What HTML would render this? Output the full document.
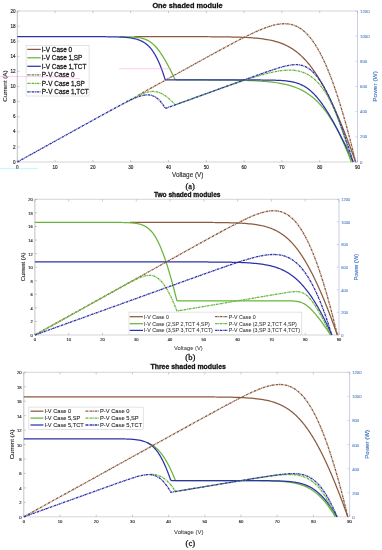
<!DOCTYPE html>
<html><head><meta charset="utf-8"><style>
html,body{margin:0;padding:0;background:#fff;}
body{width:382px;height:550px;overflow:hidden;}
svg{display:block;font-family:"Liberation Sans",sans-serif;filter:blur(0.3px);}
svg{stroke-width:0.28px;}
</style></head><body>
<svg width="382" height="550" viewBox="0 0 382 550">
<rect width="382" height="550" fill="#fff"/>
<path d="M17.3,162.0 L357.5,162.0 M17.3,11.0 L357.5,11.0" stroke="#b2b2b2" stroke-width="0.55" fill="none"/>
<path d="M17.3,11.0 L17.3,162.0" stroke="#8e8e8e" stroke-width="0.55" fill="none"/>
<path d="M357.5,11.0 L357.5,162.0" stroke="#a3aedb" stroke-width="0.6" fill="none"/>
<path d="M17.30,162.0 L17.30,159.8 M17.30,11.0 L17.30,13.2 M55.10,162.0 L55.10,159.8 M55.10,11.0 L55.10,13.2 M92.90,162.0 L92.90,159.8 M92.90,11.0 L92.90,13.2 M130.70,162.0 L130.70,159.8 M130.70,11.0 L130.70,13.2 M168.50,162.0 L168.50,159.8 M168.50,11.0 L168.50,13.2 M206.30,162.0 L206.30,159.8 M206.30,11.0 L206.30,13.2 M244.10,162.0 L244.10,159.8 M244.10,11.0 L244.10,13.2 M281.90,162.0 L281.90,159.8 M281.90,11.0 L281.90,13.2 M319.70,162.0 L319.70,159.8 M319.70,11.0 L319.70,13.2 M357.50,162.0 L357.50,159.8 M357.50,11.0 L357.50,13.2 M17.3,162.00 L19.5,162.00 M17.3,146.90 L19.5,146.90 M17.3,131.80 L19.5,131.80 M17.3,116.70 L19.5,116.70 M17.3,101.60 L19.5,101.60 M17.3,86.50 L19.5,86.50 M17.3,71.40 L19.5,71.40 M17.3,56.30 L19.5,56.30 M17.3,41.20 L19.5,41.20 M17.3,26.10 L19.5,26.10 M17.3,11.00 L19.5,11.00" stroke="#9a9a9a" stroke-width="0.5" fill="none"/>
<path d="M357.5,162.00 L355.3,162.00 M357.5,136.83 L355.3,136.83 M357.5,111.67 L355.3,111.67 M357.5,86.50 L355.3,86.50 M357.5,61.33 L355.3,61.33 M357.5,36.17 L355.3,36.17 M357.5,11.00 L355.3,11.00" stroke="#a9b3dc" stroke-width="0.5" fill="none"/>
<g font-size="4.6" fill="#262626" stroke="#262626" text-anchor="middle" style="stroke-width:0.14px">
<text x="17.30" y="168.90">0</text>
<text x="55.10" y="168.90">10</text>
<text x="92.90" y="168.90">20</text>
<text x="130.70" y="168.90">30</text>
<text x="168.50" y="168.90">40</text>
<text x="206.30" y="168.90">50</text>
<text x="244.10" y="168.90">60</text>
<text x="281.90" y="168.90">70</text>
<text x="319.70" y="168.90">80</text>
<text x="357.50" y="168.90">90</text>
</g>
<g font-size="4.6" fill="#262626" stroke="#262626" text-anchor="end" style="stroke-width:0.14px">
<text x="15.60" y="163.66">0</text>
<text x="15.60" y="148.56">2</text>
<text x="15.60" y="133.46">4</text>
<text x="15.60" y="118.36">6</text>
<text x="15.60" y="103.26">8</text>
<text x="15.60" y="88.16">10</text>
<text x="15.60" y="73.06">12</text>
<text x="15.60" y="57.96">14</text>
<text x="15.60" y="42.86">16</text>
<text x="15.60" y="27.76">18</text>
<text x="15.60" y="12.66">20</text>
</g>
<g font-size="4.3" fill="#5a86c6" stroke="#5a86c6" text-anchor="start" style="stroke-width:0.1px">
<text x="360.10" y="163.55">0</text>
<text x="360.10" y="138.38">200</text>
<text x="360.10" y="113.21">400</text>
<text x="360.10" y="88.05">600</text>
<text x="360.10" y="62.88">800</text>
<text x="360.10" y="37.71">1000</text>
<text x="360.10" y="12.55">1200</text>
</g>
<path d="M133.88,36.67 L135.92,36.67 L137.96,36.67 L140.00,36.67 L142.04,36.67 L144.08,36.67 L146.13,36.67 L148.17,36.67 L150.21,36.67 L152.25,36.67 L154.29,36.67 L156.33,36.67 L158.38,36.67 L160.42,36.67 L162.46,36.67 L164.50,36.68 L166.54,36.68 L168.58,36.68 L170.63,36.68 L172.67,36.68 L174.71,36.68 L176.75,36.68 L178.79,36.68 L180.84,36.68 L182.88,36.69 L184.92,36.69 L186.96,36.69 L189.00,36.69 L191.05,36.70 L193.09,36.70 L195.13,36.71 L197.17,36.71 L199.22,36.72 L201.26,36.72 L203.30,36.73 L205.35,36.74 L207.39,36.74 L209.43,36.75 L211.48,36.77 L213.52,36.78 L215.57,36.79 L217.61,36.81 L219.66,36.83 L221.71,36.85 L223.75,36.88 L225.80,36.90 L227.85,36.94 L229.90,36.97 L231.95,37.01 L234.00,37.06 L236.06,37.11 L238.11,37.17 L240.17,37.24 L242.23,37.31 L244.29,37.40 L246.35,37.50 L248.42,37.61 L250.49,37.74 L252.57,37.88 L254.64,38.04 L256.73,38.23 L258.82,38.44 L260.91,38.68 L263.02,38.95 L265.13,39.26 L267.25,39.60 L269.38,40.00 L271.52,40.45 L273.68,40.96 L275.85,41.54 L278.04,42.19 L280.25,42.94 L280.91,43.17 L281.54,43.41 L282.16,43.65 L282.75,43.89 L283.33,44.13 L283.89,44.37 L284.62,44.68 L285.32,45.00 L286.00,45.32 L286.65,45.64 L287.28,45.95 L287.90,46.27 L288.50,46.59 L289.08,46.91 L289.64,47.23 L290.19,47.54 L290.73,47.86 L291.25,48.18 L291.77,48.50 L292.39,48.89 L293.00,49.29 L293.59,49.69 L294.16,50.09 L294.72,50.48 L295.27,50.88 L295.80,51.28 L296.33,51.67 L296.84,52.07 L297.34,52.47 L297.83,52.87 L298.31,53.26 L298.78,53.66 L299.25,54.06 L299.70,54.45 L300.24,54.93 L300.76,55.41 L301.27,55.88 L301.78,56.36 L302.27,56.84 L302.76,57.31 L303.23,57.79 L303.70,58.27 L304.16,58.74 L304.61,59.22 L305.06,59.70 L305.50,60.17 L305.93,60.65 L306.36,61.13 L306.78,61.60 L307.19,62.08 L307.60,62.56 L308.00,63.03 L308.40,63.51 L308.79,63.99 L309.18,64.46 L309.56,64.94 L309.94,65.41 L310.31,65.89 L310.68,66.37 L311.05,66.84 L311.47,67.40 L311.88,67.96 L312.29,68.51 L312.70,69.07 L313.10,69.62 L313.49,70.18 L313.89,70.74 L314.27,71.29 L314.66,71.85 L315.04,72.40 L315.41,72.96 L315.78,73.52 L316.15,74.07 L316.51,74.63 L316.88,75.18 L317.23,75.74 L317.59,76.30 L317.94,76.85 L318.29,77.41 L318.63,77.96 L318.97,78.52 L319.31,79.08 L319.65,79.63 L319.98,80.19 L320.31,80.74 L320.64,81.30 L320.97,81.86 L321.29,82.41 L321.61,82.97 L321.93,83.52 L322.25,84.08 L322.56,84.64 L322.87,85.19 L323.18,85.75 L323.49,86.30 L323.80,86.86 L324.10,87.42 L324.40,87.97 L324.70,88.53 L325.00,89.08 L325.30,89.64 L325.59,90.20 L325.89,90.75 L326.18,91.31 L326.47,91.86 L326.75,92.42 L327.04,92.98 L327.33,93.53 L327.61,94.09 L327.89,94.64 L328.17,95.20 L328.45,95.76 L328.73,96.31 L329.00,96.87 L329.28,97.42 L329.55,97.98 L329.82,98.54 L330.09,99.09 L330.36,99.65 L330.63,100.20 L330.90,100.76 L331.16,101.32 L331.43,101.87 L331.69,102.43 L331.95,102.98 L332.21,103.54 L332.47,104.10 L332.73,104.65 L332.99,105.21 L333.24,105.76 L333.50,106.32 L333.75,106.88 L334.01,107.43 L334.26,107.99 L334.51,108.54 L334.76,109.10 L335.01,109.66 L335.26,110.21 L335.51,110.77 L335.75,111.32 L336.00,111.88 L336.25,112.44 L336.49,112.99 L336.73,113.55 L336.98,114.10 L337.22,114.66 L337.46,115.22 L337.70,115.77 L337.94,116.33 L338.18,116.88 L338.41,117.44 L338.65,118.00 L338.89,118.55 L339.12,119.11 L339.36,119.66 L339.59,120.22 L339.82,120.78 L340.06,121.33 L340.29,121.89 L340.52,122.44 L340.75,123.00 L340.98,123.56 L341.21,124.11 L341.44,124.67 L341.66,125.22 L341.89,125.78 L342.12,126.34 L342.34,126.89 L342.60,127.53 L342.86,128.16 L343.11,128.80 L343.37,129.43 L343.62,130.07 L343.88,130.71 L344.13,131.34 L344.38,131.98 L344.63,132.61 L344.88,133.25 L345.13,133.88 L345.38,134.52 L345.63,135.15 L345.88,135.79 L346.13,136.42 L346.37,137.06 L346.62,137.69 L346.86,138.33 L347.11,138.97 L347.35,139.60 L347.60,140.24 L347.84,140.87 L348.08,141.51 L348.32,142.14 L348.56,142.78 L348.80,143.41 L349.04,144.05 L349.28,144.68 L349.52,145.32 L349.76,145.96 L350.00,146.59 L350.23,147.23 L350.47,147.86 L350.71,148.50 L350.94,149.13 L351.18,149.77 L351.41,150.40 L351.65,151.04 L351.88,151.67 L352.11,152.31 L352.35,152.95 L352.58,153.58 L352.81,154.22 L353.04,154.85 L353.27,155.49 L353.50,156.12 L353.73,156.76 L353.96,157.39 L354.19,158.03 L354.42,158.66 L354.65,159.30 L354.87,159.93 L355.10,160.57 L355.33,161.21 L355.55,161.84 L355.61,162.00" stroke="#8c5a3e" stroke-width="1.25" fill="none"/>
<path d="M119.46,36.71 L120.19,36.71 L120.91,36.72 L121.64,36.72 L122.37,36.73 L123.09,36.74 L123.82,36.75 L124.55,36.76 L125.27,36.77 L126.00,36.78 L126.73,36.80 L127.46,36.81 L128.19,36.83 L128.92,36.85 L129.65,36.88 L130.38,36.90 L131.12,36.93 L131.85,36.97 L132.59,37.01 L133.33,37.05 L134.07,37.10 L134.81,37.16 L135.56,37.22 L136.30,37.30 L137.06,37.38 L137.81,37.47 L138.57,37.58 L139.33,37.70 L140.10,37.83 L140.88,37.99 L141.66,38.16 L142.45,38.36 L143.24,38.58 L144.05,38.83 L144.69,39.05 L145.28,39.27 L145.95,39.55 L146.58,39.82 L147.16,40.10 L147.70,40.37 L148.31,40.70 L148.87,41.03 L149.41,41.36 L149.92,41.69 L150.47,42.07 L151.00,42.45 L151.51,42.84 L151.99,43.22 L152.51,43.66 L153.01,44.10 L153.50,44.54 L153.96,44.98 L154.41,45.42 L154.84,45.86 L155.26,46.30 L155.71,46.79 L156.16,47.28 L156.59,47.78 L157.00,48.27 L157.41,48.76 L157.81,49.26 L158.20,49.75 L158.58,50.25 L158.95,50.74 L159.32,51.23 L159.68,51.73 L160.03,52.22 L160.38,52.72 L160.72,53.21 L161.09,53.76 L161.46,54.31 L161.82,54.86 L162.18,55.40 L162.53,55.95 L162.87,56.50 L163.22,57.05 L163.55,57.60 L163.89,58.15 L164.22,58.70 L164.54,59.25 L164.87,59.79 L165.18,60.34 L165.50,60.89 L165.81,61.44 L166.12,61.99 L166.43,62.54 L166.74,63.09 L167.04,63.63 L167.34,64.18 L167.64,64.73 L167.93,65.28 L168.23,65.83 L168.52,66.38 L168.81,66.93 L169.10,67.48 L169.38,68.02 L169.66,68.57 L169.95,69.12 L170.23,69.67 L170.51,70.22 L170.78,70.77 L171.06,71.32 L171.33,71.87 L171.61,72.41 L171.88,72.96 L172.15,73.51 L172.42,74.06 L172.68,74.61 L172.95,75.16 L173.22,75.71 L173.48,76.26 L173.74,76.80 L174.00,77.35 L174.26,77.90 L174.52,78.45 L174.78,79.00 L175.04,79.55 L176.62,79.94 L178.94,79.95 L181.26,79.95 L183.57,79.95 L185.89,79.95 L188.21,79.96 L190.53,79.96 L192.85,79.96 L195.17,79.97 L197.49,79.97 L199.81,79.98 L202.13,79.98 L204.45,79.99 L206.77,80.00 L209.09,80.01 L211.41,80.02 L213.73,80.03 L216.05,80.04 L218.37,80.05 L220.69,80.07 L223.01,80.09 L225.33,80.11 L227.65,80.13 L229.98,80.16 L232.30,80.19 L234.62,80.23 L236.95,80.27 L239.27,80.31 L241.60,80.36 L243.93,80.42 L246.25,80.48 L248.58,80.56 L250.92,80.64 L253.25,80.73 L255.58,80.84 L257.92,80.96 L260.26,81.10 L262.60,81.26 L264.95,81.44 L267.30,81.64 L269.65,81.86 L272.01,82.12 L274.38,82.42 L276.75,82.75 L279.12,83.12 L281.51,83.55 L283.90,84.03 L284.62,84.19 L285.31,84.35 L285.97,84.50 L286.62,84.66 L287.24,84.82 L287.85,84.97 L288.43,85.13 L289.19,85.34 L289.92,85.54 L290.63,85.75 L291.31,85.96 L291.97,86.17 L292.61,86.38 L293.23,86.58 L293.83,86.79 L294.41,87.00 L294.98,87.21 L295.67,87.47 L296.34,87.73 L296.99,87.99 L297.61,88.25 L298.22,88.51 L298.82,88.77 L299.39,89.03 L299.95,89.29 L300.50,89.55 L301.14,89.86 L301.76,90.17 L302.36,90.48 L302.95,90.80 L303.52,91.11 L304.08,91.42 L304.62,91.73 L305.15,92.04 L305.67,92.36 L306.26,92.72 L306.84,93.08 L307.40,93.45 L307.95,93.81 L308.48,94.18 L309.01,94.54 L309.52,94.91 L310.02,95.27 L310.51,95.63 L310.99,96.00 L311.52,96.41 L312.05,96.83 L312.56,97.25 L313.07,97.66 L313.56,98.08 L314.04,98.49 L314.52,98.91 L314.98,99.33 L315.44,99.74 L315.89,100.16 L316.33,100.57 L316.76,100.99 L317.24,101.46 L317.71,101.93 L318.18,102.39 L318.63,102.86 L319.08,103.33 L319.51,103.80 L319.95,104.27 L320.37,104.74 L320.79,105.20 L321.20,105.67 L321.61,106.14 L322.01,106.61 L322.40,107.08 L322.79,107.54 L323.17,108.01 L323.55,108.48 L323.97,109.00 L324.37,109.52 L324.78,110.04 L325.17,110.56 L325.57,111.08 L325.95,111.60 L326.34,112.12 L326.71,112.64 L327.08,113.16 L327.45,113.68 L327.82,114.20 L328.18,114.72 L328.53,115.24 L328.88,115.76 L329.23,116.28 L329.57,116.80 L329.91,117.32 L330.25,117.84 L330.58,118.36 L330.91,118.88 L331.23,119.40 L331.56,119.92 L331.88,120.44 L332.19,120.96 L332.51,121.48 L332.82,122.00 L333.13,122.52 L333.43,123.04 L333.73,123.56 L334.03,124.08 L334.36,124.66 L334.68,125.23 L335.00,125.80 L335.32,126.37 L335.64,126.94 L335.95,127.52 L336.26,128.09 L336.57,128.66 L336.87,129.23 L337.17,129.80 L337.47,130.38 L337.77,130.95 L338.07,131.52 L338.36,132.09 L338.65,132.67 L338.94,133.24 L339.22,133.81 L339.51,134.38 L339.79,134.95 L340.07,135.53 L340.35,136.10 L340.62,136.67 L340.90,137.24 L341.17,137.81 L341.44,138.39 L341.71,138.96 L341.98,139.53 L342.24,140.10 L342.51,140.68 L342.77,141.25 L343.03,141.82 L343.29,142.39 L343.54,142.96 L343.80,143.54 L344.05,144.11 L344.31,144.68 L344.56,145.25 L344.81,145.82 L345.06,146.40 L345.30,146.97 L345.55,147.54 L345.79,148.11 L346.04,148.69 L346.28,149.26 L346.52,149.83 L346.76,150.40 L347.00,150.97 L347.24,151.55 L347.47,152.12 L347.71,152.69 L347.94,153.26 L348.17,153.83 L348.40,154.41 L348.63,154.98 L348.86,155.55 L349.09,156.12 L349.32,156.69 L349.54,157.27 L349.77,157.84 L349.99,158.41 L350.22,158.98 L350.44,159.56 L350.66,160.13 L350.88,160.70 L351.10,161.27 L351.32,161.84 L351.38,162.00" stroke="#68b53c" stroke-width="1.25" fill="none"/>
<path d="M17.30,36.67 L18.43,36.67 L19.31,36.67 L20.21,36.67 L21.12,36.67 L22.05,36.67 L22.99,36.67 L23.94,36.67 L24.90,36.67 L25.88,36.67 L26.86,36.67 L27.85,36.67 L28.85,36.67 L29.85,36.67 L30.86,36.67 L31.88,36.67 L32.90,36.67 L33.92,36.67 L34.95,36.67 L35.98,36.67 L37.01,36.67 L38.05,36.67 L39.08,36.67 L40.12,36.67 L41.17,36.67 L42.21,36.67 L43.25,36.67 L44.30,36.67 L45.35,36.67 L46.39,36.67 L47.44,36.67 L48.49,36.67 L49.54,36.67 L50.59,36.67 L51.65,36.67 L52.70,36.67 L53.75,36.67 L54.80,36.67 L55.86,36.67 L56.91,36.67 L57.96,36.67 L59.02,36.67 L60.07,36.67 L61.12,36.67 L62.18,36.67 L63.23,36.67 L64.29,36.67 L65.34,36.67 L66.40,36.67 L67.45,36.67 L68.51,36.67 L69.56,36.67 L70.62,36.67 L71.67,36.67 L72.73,36.67 L73.78,36.67 L74.84,36.67 L75.89,36.67 L76.95,36.67 L78.00,36.67 L79.06,36.67 L80.11,36.67 L81.17,36.67 L82.23,36.67 L83.28,36.68 L84.34,36.68 L85.39,36.68 L86.45,36.68 L87.50,36.68 L88.56,36.68 L89.61,36.68 L90.67,36.68 L91.73,36.68 L92.78,36.69 L93.84,36.69 L94.89,36.69 L95.95,36.69 L97.00,36.70 L98.06,36.70 L99.12,36.70 L100.17,36.71 L101.23,36.71 L102.28,36.72 L103.34,36.72 L104.40,36.73 L105.45,36.74 L106.51,36.75 L107.57,36.76 L108.62,36.77 L109.68,36.78 L110.74,36.80 L111.79,36.81 L112.85,36.83 L113.91,36.85 L114.97,36.88 L116.03,36.90 L117.08,36.93 L118.14,36.97 L119.20,37.01 L120.26,37.05 L121.32,37.10 L122.39,37.16 L123.45,37.22 L124.51,37.30 L125.58,37.38 L126.64,37.47 L127.71,37.58 L128.78,37.70 L129.85,37.83 L130.92,37.99 L132.00,38.16 L133.07,38.36 L134.15,38.58 L135.23,38.83 L135.88,39.00 L136.48,39.16 L137.22,39.38 L137.91,39.60 L138.55,39.82 L139.15,40.04 L139.71,40.26 L140.37,40.53 L140.98,40.81 L141.56,41.08 L142.10,41.36 L142.72,41.69 L143.29,42.02 L143.84,42.34 L144.36,42.67 L144.93,43.06 L145.47,43.44 L145.98,43.83 L146.47,44.21 L146.93,44.59 L147.44,45.03 L147.92,45.47 L148.39,45.91 L148.83,46.35 L149.25,46.79 L149.66,47.23 L150.11,47.72 L150.53,48.22 L150.95,48.71 L151.34,49.20 L151.73,49.70 L152.10,50.19 L152.46,50.69 L152.81,51.18 L153.18,51.73 L153.55,52.28 L153.90,52.83 L154.25,53.37 L154.58,53.92 L154.91,54.47 L155.23,55.02 L155.54,55.57 L155.84,56.12 L156.14,56.67 L156.43,57.21 L156.71,57.76 L156.99,58.31 L157.27,58.86 L157.53,59.41 L157.80,59.96 L158.06,60.51 L158.31,61.06 L158.56,61.60 L158.80,62.15 L159.07,62.76 L159.33,63.36 L159.59,63.96 L159.84,64.57 L160.09,65.17 L160.33,65.77 L160.57,66.38 L160.81,66.98 L161.04,67.59 L161.27,68.19 L161.50,68.79 L161.73,69.40 L161.95,70.00 L162.17,70.60 L162.38,71.21 L162.60,71.81 L162.81,72.41 L163.02,73.02 L163.22,73.62 L163.43,74.22 L163.63,74.83 L163.83,75.43 L164.03,76.04 L164.22,76.64 L164.42,77.24 L164.61,77.85 L164.80,78.45 L164.99,79.05 L165.17,79.66 L166.52,79.93 L167.63,79.93 L168.73,79.93 L169.84,79.93 L170.95,79.93 L172.05,79.93 L173.16,79.93 L174.27,79.93 L175.37,79.93 L176.48,79.93 L177.59,79.93 L178.69,79.93 L179.80,79.93 L180.91,79.93 L182.01,79.93 L183.12,79.93 L184.23,79.93 L185.33,79.93 L186.44,79.93 L187.55,79.93 L188.65,79.93 L189.76,79.93 L190.87,79.93 L191.97,79.93 L193.08,79.93 L194.19,79.93 L195.29,79.93 L196.40,79.93 L197.51,79.93 L198.61,79.93 L199.72,79.93 L200.82,79.93 L201.93,79.93 L203.04,79.93 L204.14,79.93 L205.25,79.93 L206.36,79.93 L207.46,79.93 L208.57,79.93 L209.68,79.93 L210.78,79.93 L211.89,79.93 L213.00,79.93 L214.10,79.93 L215.21,79.93 L216.32,79.93 L217.42,79.93 L218.53,79.93 L219.64,79.93 L220.74,79.93 L221.85,79.93 L222.96,79.93 L224.06,79.93 L225.17,79.93 L226.28,79.93 L227.38,79.93 L228.49,79.93 L229.60,79.93 L230.70,79.93 L231.81,79.93 L232.92,79.93 L234.02,79.93 L235.13,79.93 L236.24,79.94 L237.34,79.94 L238.45,79.94 L239.56,79.94 L240.67,79.94 L241.77,79.94 L242.88,79.94 L243.99,79.94 L245.09,79.94 L246.20,79.94 L247.31,79.94 L248.41,79.95 L249.52,79.95 L250.63,79.95 L251.74,79.95 L252.84,79.96 L253.95,79.96 L255.06,79.96 L256.17,79.97 L257.28,79.97 L258.38,79.98 L259.49,79.98 L260.60,79.99 L261.71,80.00 L262.82,80.01 L263.93,80.02 L265.04,80.03 L266.15,80.04 L267.26,80.05 L268.38,80.07 L269.49,80.09 L270.60,80.11 L271.72,80.13 L272.83,80.16 L273.95,80.19 L275.07,80.23 L276.19,80.27 L277.31,80.31 L278.44,80.36 L279.56,80.42 L280.69,80.48 L281.83,80.56 L282.96,80.64 L284.10,80.73 L285.24,80.84 L286.39,80.96 L287.55,81.10 L288.71,81.26 L289.88,81.44 L291.05,81.64 L292.24,81.86 L293.44,82.12 L294.64,82.42 L295.87,82.75 L297.10,83.12 L298.36,83.55 L299.63,84.03 L300.27,84.29 L300.87,84.56 L301.44,84.82 L301.99,85.08 L302.62,85.39 L303.22,85.70 L303.79,86.01 L304.34,86.32 L304.87,86.64 L305.46,87.00 L306.03,87.36 L306.58,87.73 L307.11,88.09 L307.62,88.46 L308.12,88.82 L308.60,89.18 L309.13,89.60 L309.64,90.02 L310.15,90.43 L310.63,90.85 L311.11,91.26 L311.57,91.68 L312.02,92.10 L312.46,92.51 L312.95,92.98 L313.42,93.45 L313.89,93.92 L314.34,94.39 L314.78,94.85 L315.22,95.32 L315.64,95.79 L316.06,96.26 L316.48,96.73 L316.88,97.19 L317.28,97.66 L317.67,98.13 L318.06,98.60 L318.44,99.07 L318.82,99.53 L319.23,100.05 L319.63,100.57 L320.03,101.09 L320.43,101.61 L320.82,102.13 L321.20,102.66 L321.58,103.18 L321.96,103.70 L322.33,104.22 L322.70,104.74 L323.06,105.26 L323.42,105.78 L323.78,106.30 L324.13,106.82 L324.48,107.34 L324.83,107.86 L325.17,108.38 L325.51,108.90 L325.85,109.42 L326.19,109.94 L326.52,110.46 L326.85,110.98 L327.18,111.50 L327.50,112.02 L327.82,112.54 L328.14,113.06 L328.46,113.58 L328.78,114.10 L329.09,114.62 L329.40,115.14 L329.71,115.66 L330.02,116.18 L330.33,116.70 L330.63,117.22 L330.94,117.74 L331.24,118.26 L331.54,118.78 L331.86,119.35 L332.19,119.92 L332.51,120.49 L332.84,121.07 L333.16,121.64 L333.48,122.21 L333.79,122.78 L334.11,123.36 L334.42,123.93 L334.74,124.50 L335.05,125.07 L335.36,125.64 L335.67,126.22 L335.97,126.79 L336.28,127.36 L336.58,127.93 L336.89,128.50 L337.19,129.08 L337.49,129.65 L337.79,130.22 L338.09,130.79 L338.39,131.37 L338.68,131.94 L338.98,132.51 L339.27,133.08 L339.57,133.65 L339.86,134.23 L340.15,134.80 L340.44,135.37 L340.73,135.94 L341.02,136.51 L341.30,137.09 L341.59,137.66 L341.88,138.23 L342.16,138.80 L342.45,139.38 L342.73,139.95 L343.01,140.52 L343.29,141.09 L343.57,141.66 L343.85,142.24 L344.13,142.81 L344.41,143.38 L344.69,143.95 L344.97,144.52 L345.24,145.10 L345.52,145.67 L345.80,146.24 L346.07,146.81 L346.34,147.38 L346.62,147.96 L346.89,148.53 L347.16,149.10 L347.43,149.67 L347.70,150.25 L347.98,150.82 L348.24,151.39 L348.51,151.96 L348.78,152.53 L349.05,153.11 L349.32,153.68 L349.59,154.25 L349.85,154.82 L350.12,155.39 L350.38,155.97 L350.65,156.54 L350.91,157.11 L351.18,157.68 L351.44,158.26 L351.70,158.83 L351.97,159.40 L352.23,159.97 L352.49,160.54 L352.75,161.12 L353.01,161.69 L353.15,162.00" stroke="#2e32a8" stroke-width="1.25" fill="none"/>
<path d="M137.96,95.32 L140.00,94.20 L142.04,93.07 L144.08,91.94 L146.13,90.81 L148.17,89.68 L150.21,88.56 L152.25,87.43 L154.29,86.30 L156.33,85.17 L158.38,84.04 L160.42,82.92 L162.46,81.79 L164.50,80.66 L166.54,79.53 L168.58,78.40 L170.63,77.28 L172.67,76.15 L174.71,75.02 L176.75,73.89 L178.79,72.77 L180.84,71.64 L182.88,70.51 L184.92,69.39 L186.96,68.26 L189.00,67.13 L191.05,66.01 L193.09,64.88 L195.13,63.76 L197.17,62.63 L199.22,61.51 L201.26,60.38 L203.30,59.26 L205.35,58.14 L207.39,57.02 L209.43,55.90 L211.48,54.78 L213.52,53.66 L215.57,52.54 L217.61,51.43 L219.66,50.32 L221.71,49.21 L223.75,48.10 L225.80,47.00 L227.85,45.90 L229.90,44.80 L231.95,43.71 L234.00,42.62 L236.06,41.54 L238.11,40.46 L240.17,39.40 L242.23,38.34 L244.29,37.30 L246.35,36.26 L248.42,35.24 L250.49,34.23 L252.57,33.25 L254.64,32.28 L256.73,31.34 L258.82,30.42 L260.91,29.54 L263.02,28.69 L265.13,27.88 L267.25,27.11 L269.38,26.40 L271.52,25.75 L273.68,25.17 L275.85,24.67 L278.04,24.26 L280.25,23.96 L280.91,23.89 L281.54,23.83 L282.16,23.79 L282.95,23.75 L283.71,23.73 L284.44,23.72 L285.15,23.73 L285.83,23.76 L286.49,23.79 L287.13,23.84 L287.75,23.91 L288.35,23.98 L289.08,24.08 L289.78,24.20 L290.46,24.34 L291.12,24.48 L291.77,24.64 L292.39,24.81 L293.00,24.99 L293.59,25.18 L294.16,25.38 L294.83,25.63 L295.48,25.90 L296.12,26.17 L296.74,26.46 L297.34,26.76 L297.93,27.06 L298.50,27.38 L299.06,27.70 L299.61,28.03 L300.15,28.37 L300.67,28.72 L301.19,29.07 L301.69,29.43 L302.19,29.80 L302.68,30.18 L303.15,30.56 L303.62,30.94 L304.09,31.33 L304.54,31.73 L304.99,32.13 L305.50,32.61 L306.00,33.09 L306.50,33.58 L306.98,34.07 L307.46,34.57 L307.93,35.08 L308.40,35.59 L308.85,36.10 L309.31,36.62 L309.75,37.15 L310.19,37.68 L310.62,38.22 L311.05,38.76 L311.47,39.30 L311.88,39.85 L312.29,40.40 L312.70,40.96 L313.10,41.52 L313.49,42.09 L313.89,42.65 L314.27,43.23 L314.66,43.80 L315.04,44.38 L315.41,44.96 L315.78,45.55 L316.15,46.14 L316.51,46.73 L316.88,47.33 L317.23,47.93 L317.59,48.53 L317.94,49.13 L318.29,49.74 L318.58,50.26 L318.88,50.79 L319.17,51.31 L319.46,51.84 L319.74,52.37 L320.03,52.91 L320.31,53.44 L320.59,53.98 L320.87,54.51 L321.15,55.05 L321.43,55.60 L321.70,56.14 L321.98,56.69 L322.25,57.23 L322.52,57.78 L322.78,58.33 L323.05,58.88 L323.32,59.44 L323.58,59.99 L323.84,60.55 L324.10,61.11 L324.36,61.67 L324.62,62.23 L324.87,62.79 L325.13,63.36 L325.38,63.92 L325.63,64.49 L325.89,65.06 L326.14,65.63 L326.38,66.20 L326.63,66.78 L326.88,67.35 L327.12,67.93 L327.37,68.50 L327.61,69.08 L327.85,69.66 L328.09,70.25 L328.33,70.83 L328.57,71.41 L328.81,72.00 L329.04,72.58 L329.28,73.17 L329.51,73.76 L329.74,74.35 L329.98,74.94 L330.21,75.54 L330.44,76.13 L330.67,76.73 L330.90,77.32 L331.12,77.92 L331.35,78.52 L331.58,79.12 L331.80,79.72 L332.03,80.33 L332.25,80.93 L332.47,81.53 L332.69,82.14 L332.91,82.75 L333.13,83.36 L333.35,83.97 L333.57,84.58 L333.79,85.19 L334.01,85.80 L334.22,86.41 L334.44,87.03 L334.65,87.65 L334.87,88.26 L335.08,88.88 L335.30,89.50 L335.51,90.12 L335.72,90.74 L335.93,91.36 L336.14,91.99 L336.35,92.61 L336.56,93.24 L336.77,93.86 L336.98,94.49 L337.18,95.12 L337.39,95.75 L337.59,96.38 L337.80,97.01 L338.00,97.64 L338.21,98.28 L338.41,98.91 L338.62,99.55 L338.82,100.18 L339.02,100.82 L339.22,101.46 L339.42,102.10 L339.62,102.74 L339.82,103.38 L340.02,104.02 L340.22,104.66 L340.42,105.31 L340.62,105.95 L340.81,106.60 L341.01,107.24 L341.21,107.89 L341.40,108.54 L341.60,109.19 L341.79,109.84 L341.99,110.49 L342.18,111.14 L342.37,111.79 L342.57,112.45 L342.76,113.10 L342.95,113.76 L343.14,114.41 L343.34,115.07 L343.53,115.73 L343.72,116.39 L343.91,117.05 L344.10,117.71 L344.29,118.37 L344.47,119.03 L344.66,119.70 L344.85,120.36 L345.04,121.02 L345.23,121.69 L345.41,122.36 L345.60,123.02 L345.79,123.69 L345.97,124.36 L346.16,125.03 L346.34,125.70 L346.53,126.37 L346.71,127.04 L346.89,127.72 L347.08,128.39 L347.26,129.07 L347.44,129.74 L347.63,130.42 L347.81,131.10 L347.99,131.77 L348.17,132.45 L348.35,133.13 L348.53,133.81 L348.71,134.49 L348.89,135.17 L349.07,135.86 L349.25,136.54 L349.43,137.22 L349.61,137.91 L349.79,138.60 L349.97,139.28 L350.15,139.97 L350.32,140.66 L350.50,141.35 L350.68,142.04 L350.85,142.73 L351.03,143.42 L351.21,144.11 L351.38,144.80 L351.56,145.49 L351.73,146.19 L351.91,146.88 L352.08,147.58 L352.26,148.28 L352.43,148.97 L352.61,149.67 L352.78,150.37 L352.93,150.95 L353.07,151.53 L353.21,152.12 L353.36,152.70 L353.50,153.29 L353.65,153.87 L353.79,154.46 L353.93,155.04 L354.08,155.63 L354.22,156.22 L354.36,156.81 L354.50,157.39 L354.65,157.98 L354.79,158.57 L354.93,159.16 L355.07,159.75 L355.21,160.34 L355.36,160.93 L355.50,161.53 L355.61,162.00" stroke="#8c5a3e" stroke-width="1.3" fill="none" stroke-dasharray="2.5 0.6 0.9 0.6" stroke-dashoffset="137.856"/>
<path d="M126.00,101.98 L126.73,101.59 L127.46,101.19 L128.19,100.80 L128.92,100.41 L129.65,100.02 L130.38,99.63 L131.12,99.24 L131.85,98.85 L132.59,98.46 L133.33,98.08 L134.07,97.70 L134.81,97.32 L135.56,96.94 L136.30,96.57 L137.06,96.20 L137.81,95.83 L138.57,95.47 L139.33,95.12 L140.10,94.77 L140.88,94.43 L141.66,94.10 L142.45,93.78 L143.24,93.46 L144.05,93.17 L144.69,92.94 L145.28,92.75 L145.95,92.54 L146.58,92.36 L147.27,92.17 L147.91,92.02 L148.50,91.89 L149.15,91.77 L149.75,91.67 L150.40,91.59 L151.00,91.53 L151.65,91.48 L152.25,91.45 L152.89,91.45 L153.50,91.46 L154.13,91.50 L154.73,91.56 L155.36,91.63 L155.96,91.73 L156.59,91.85 L157.19,91.99 L157.81,92.15 L158.41,92.33 L158.99,92.52 L159.56,92.73 L160.15,92.96 L160.72,93.21 L161.28,93.46 L161.82,93.73 L162.39,94.02 L162.94,94.32 L163.49,94.64 L164.02,94.96 L164.54,95.29 L165.06,95.63 L165.56,95.97 L166.06,96.33 L166.55,96.69 L167.04,97.06 L167.52,97.43 L167.99,97.81 L168.46,98.20 L168.92,98.59 L169.38,98.98 L169.83,99.39 L170.28,99.80 L170.73,100.21 L171.17,100.63 L171.61,101.05 L172.04,101.48 L172.47,101.91 L172.90,102.35 L173.32,102.79 L173.74,103.23 L174.16,103.68 L174.58,104.14 L174.99,104.60 L176.62,104.36 L178.94,103.52 L181.26,102.68 L183.57,101.85 L185.89,101.01 L188.21,100.17 L190.53,99.34 L192.85,98.50 L195.17,97.67 L197.49,96.83 L199.81,96.00 L202.13,95.16 L204.45,94.33 L206.77,93.50 L209.09,92.66 L211.41,91.83 L213.73,91.01 L216.05,90.18 L218.37,89.35 L220.69,88.53 L223.01,87.71 L225.33,86.89 L227.65,86.07 L229.98,85.26 L232.30,84.45 L234.62,83.64 L236.95,82.84 L239.27,82.05 L241.60,81.26 L243.93,80.48 L246.25,79.71 L248.58,78.95 L250.92,78.20 L253.25,77.46 L255.58,76.73 L257.92,76.03 L260.26,75.34 L262.60,74.67 L264.95,74.03 L267.30,73.42 L269.65,72.84 L272.01,72.29 L274.38,71.79 L276.75,71.34 L279.12,70.94 L281.51,70.61 L283.90,70.35 L284.62,70.29 L285.31,70.24 L285.97,70.20 L286.62,70.16 L287.24,70.13 L287.85,70.11 L288.63,70.10 L289.38,70.09 L290.10,70.10 L290.80,70.11 L291.48,70.14 L292.13,70.17 L292.76,70.21 L293.38,70.26 L294.12,70.33 L294.84,70.41 L295.54,70.50 L296.21,70.60 L296.86,70.71 L297.49,70.82 L298.10,70.94 L298.70,71.07 L299.39,71.24 L300.06,71.41 L300.72,71.59 L301.35,71.78 L301.96,71.98 L302.56,72.18 L303.14,72.39 L303.71,72.61 L304.35,72.87 L304.98,73.14 L305.59,73.41 L306.18,73.69 L306.76,73.98 L307.32,74.27 L307.87,74.57 L308.41,74.88 L308.93,75.19 L309.44,75.51 L310.02,75.87 L310.58,76.25 L311.12,76.63 L311.66,77.01 L312.18,77.40 L312.69,77.80 L313.19,78.20 L313.68,78.60 L314.16,79.01 L314.64,79.43 L315.10,79.84 L315.55,80.26 L316.00,80.69 L316.44,81.12 L316.87,81.55 L317.30,81.99 L317.71,82.43 L318.13,82.87 L318.53,83.32 L318.93,83.77 L319.37,84.28 L319.80,84.79 L320.23,85.30 L320.65,85.82 L321.06,86.35 L321.47,86.87 L321.87,87.40 L322.27,87.94 L322.66,88.47 L323.05,89.01 L323.43,89.55 L323.80,90.09 L324.17,90.64 L324.54,91.19 L324.90,91.74 L325.25,92.30 L325.61,92.85 L325.95,93.41 L326.30,93.97 L326.64,94.54 L326.97,95.10 L327.31,95.67 L327.63,96.24 L327.96,96.81 L328.28,97.39 L328.60,97.96 L328.92,98.54 L329.23,99.12 L329.54,99.70 L329.84,100.29 L330.15,100.87 L330.45,101.46 L330.74,102.05 L331.04,102.64 L331.33,103.23 L331.62,103.83 L331.91,104.43 L332.19,105.02 L332.48,105.62 L332.76,106.22 L333.03,106.83 L333.31,107.43 L333.58,108.04 L333.85,108.64 L334.12,109.25 L334.39,109.86 L334.65,110.47 L334.92,111.09 L335.18,111.70 L335.44,112.32 L335.69,112.93 L335.95,113.55 L336.20,114.17 L336.46,114.79 L336.71,115.41 L336.95,116.04 L337.20,116.66 L337.45,117.29 L337.69,117.92 L337.93,118.54 L338.17,119.17 L338.41,119.80 L338.62,120.37 L338.83,120.93 L339.04,121.49 L339.25,122.06 L339.46,122.62 L339.66,123.19 L339.87,123.76 L340.07,124.32 L340.27,124.89 L340.47,125.46 L340.67,126.03 L340.87,126.60 L341.07,127.18 L341.27,127.75 L341.46,128.32 L341.66,128.90 L341.85,129.47 L342.05,130.05 L342.24,130.63 L342.43,131.21 L342.62,131.78 L342.81,132.36 L343.00,132.94 L343.19,133.53 L343.38,134.11 L343.57,134.69 L343.75,135.27 L343.94,135.86 L344.12,136.44 L344.31,137.03 L344.49,137.61 L344.67,138.20 L344.85,138.79 L345.03,139.38 L345.21,139.97 L345.39,140.56 L345.57,141.15 L345.75,141.74 L345.93,142.33 L346.10,142.92 L346.28,143.52 L346.45,144.11 L346.63,144.70 L346.80,145.30 L346.98,145.90 L347.15,146.49 L347.32,147.09 L347.49,147.69 L347.66,148.29 L347.83,148.89 L348.00,149.49 L348.17,150.09 L348.34,150.69 L348.51,151.29 L348.68,151.89 L348.84,152.50 L349.01,153.10 L349.17,153.70 L349.34,154.31 L349.50,154.91 L349.67,155.52 L349.83,156.13 L349.99,156.74 L350.16,157.34 L350.32,157.95 L350.48,158.56 L350.64,159.17 L350.80,159.78 L350.96,160.39 L351.12,161.00 L351.28,161.62 L351.38,162.00" stroke="#68b53c" stroke-width="1.3" fill="none" stroke-dasharray="2.5 0.6 0.9 0.6" stroke-dashoffset="124.169"/>
<path d="M17.30,162.00 L18.43,161.37 L19.31,160.89 L20.21,160.39 L21.12,159.89 L22.05,159.38 L22.99,158.86 L23.94,158.33 L24.90,157.80 L25.88,157.26 L26.86,156.72 L27.85,156.17 L28.85,155.62 L29.85,155.06 L30.86,154.51 L31.88,153.95 L32.90,153.38 L33.92,152.82 L34.95,152.25 L35.98,151.68 L37.01,151.11 L38.05,150.54 L39.08,149.96 L40.12,149.39 L41.17,148.81 L42.21,148.24 L43.25,147.66 L44.30,147.08 L45.35,146.50 L46.39,145.92 L47.44,145.34 L48.49,144.76 L49.54,144.18 L50.59,143.60 L51.65,143.02 L52.70,142.44 L53.75,141.86 L54.80,141.28 L55.86,140.69 L56.91,140.11 L57.96,139.53 L59.02,138.95 L60.07,138.37 L61.12,137.78 L62.18,137.20 L63.23,136.62 L64.29,136.03 L65.34,135.45 L66.40,134.87 L67.45,134.29 L68.51,133.70 L69.56,133.12 L70.62,132.54 L71.67,131.95 L72.73,131.37 L73.78,130.79 L74.84,130.20 L75.89,129.62 L76.95,129.04 L78.00,128.46 L79.06,127.87 L80.11,127.29 L81.17,126.71 L82.23,126.12 L83.28,125.54 L84.34,124.96 L85.39,124.37 L86.45,123.79 L87.50,123.21 L88.56,122.63 L89.61,122.04 L90.67,121.46 L91.73,120.88 L92.78,120.29 L93.84,119.71 L94.89,119.13 L95.95,118.55 L97.00,117.96 L98.06,117.38 L99.12,116.80 L100.17,116.22 L101.23,115.64 L102.28,115.06 L103.34,114.47 L104.40,113.89 L105.45,113.31 L106.51,112.73 L107.57,112.15 L108.62,111.57 L109.68,111.00 L110.74,110.42 L111.79,109.84 L112.85,109.27 L113.91,108.69 L114.97,108.12 L116.03,107.55 L117.08,106.98 L118.14,106.41 L119.20,105.84 L120.26,105.28 L121.32,104.71 L122.39,104.16 L123.45,103.60 L124.51,103.05 L125.58,102.50 L126.64,101.96 L127.71,101.43 L128.78,100.90 L129.85,100.38 L130.92,99.87 L132.00,99.37 L133.07,98.89 L134.15,98.41 L135.23,97.95 L135.88,97.69 L136.48,97.45 L137.04,97.23 L137.74,96.97 L138.39,96.74 L139.00,96.53 L139.57,96.34 L140.24,96.13 L140.86,95.94 L141.44,95.78 L142.10,95.61 L142.72,95.47 L143.39,95.33 L144.01,95.21 L144.69,95.10 L145.31,95.02 L145.98,94.95 L146.60,94.91 L147.25,94.89 L147.86,94.89 L148.50,94.91 L149.10,94.95 L149.71,95.02 L150.35,95.12 L150.95,95.24 L151.56,95.39 L152.14,95.56 L152.73,95.76 L153.29,95.98 L153.87,96.23 L154.41,96.49 L154.97,96.79 L155.51,97.11 L156.02,97.44 L156.51,97.78 L157.02,98.16 L157.51,98.55 L157.98,98.94 L158.43,99.35 L158.88,99.77 L159.31,100.20 L159.73,100.64 L160.13,101.09 L160.53,101.54 L160.92,102.01 L161.30,102.47 L161.67,102.95 L162.03,103.43 L162.38,103.92 L162.73,104.41 L163.07,104.91 L163.41,105.42 L163.74,105.93 L164.06,106.44 L164.38,106.96 L164.69,107.49 L165.00,108.02 L166.52,108.00 L167.63,107.60 L168.73,107.20 L169.84,106.80 L170.95,106.40 L172.05,106.00 L173.16,105.60 L174.27,105.20 L175.37,104.80 L176.48,104.40 L177.59,104.00 L178.69,103.60 L179.80,103.20 L180.91,102.80 L182.01,102.40 L183.12,102.00 L184.23,101.60 L185.33,101.20 L186.44,100.80 L187.55,100.40 L188.65,100.00 L189.76,99.60 L190.87,99.19 L191.97,98.79 L193.08,98.39 L194.19,97.99 L195.29,97.59 L196.40,97.19 L197.51,96.79 L198.61,96.39 L199.72,95.99 L200.82,95.59 L201.93,95.19 L203.04,94.79 L204.14,94.39 L205.25,93.99 L206.36,93.59 L207.46,93.19 L208.57,92.79 L209.68,92.39 L210.78,91.99 L211.89,91.59 L213.00,91.19 L214.10,90.79 L215.21,90.39 L216.32,89.98 L217.42,89.58 L218.53,89.18 L219.64,88.78 L220.74,88.38 L221.85,87.98 L222.96,87.58 L224.06,87.18 L225.17,86.78 L226.28,86.38 L227.38,85.98 L228.49,85.58 L229.60,85.18 L230.70,84.78 L231.81,84.38 L232.92,83.98 L234.02,83.58 L235.13,83.18 L236.24,82.78 L237.34,82.38 L238.45,81.98 L239.56,81.58 L240.67,81.18 L241.77,80.78 L242.88,80.38 L243.99,79.98 L245.09,79.58 L246.20,79.18 L247.31,78.78 L248.41,78.39 L249.52,77.99 L250.63,77.59 L251.74,77.19 L252.84,76.79 L253.95,76.39 L255.06,76.00 L256.17,75.60 L257.28,75.21 L258.38,74.81 L259.49,74.42 L260.60,74.02 L261.71,73.63 L262.82,73.24 L263.93,72.85 L265.04,72.46 L266.15,72.07 L267.26,71.68 L268.38,71.30 L269.49,70.92 L270.60,70.54 L271.72,70.16 L272.83,69.79 L273.95,69.42 L275.07,69.06 L276.19,68.70 L277.31,68.35 L278.44,68.00 L279.56,67.66 L280.69,67.33 L281.83,67.01 L282.96,66.70 L284.10,66.40 L285.24,66.12 L286.39,65.85 L287.55,65.60 L288.71,65.38 L289.88,65.17 L291.05,65.00 L292.24,64.86 L293.44,64.75 L294.64,64.68 L295.87,64.66 L297.10,64.69 L298.36,64.78 L299.63,64.94 L300.27,65.05 L300.87,65.17 L301.55,65.33 L302.20,65.50 L302.82,65.68 L303.41,65.88 L303.97,66.08 L304.61,66.33 L305.21,66.59 L305.79,66.86 L306.35,67.14 L306.88,67.43 L307.48,67.77 L308.05,68.12 L308.60,68.48 L309.13,68.84 L309.64,69.21 L310.15,69.59 L310.63,69.98 L311.11,70.37 L311.57,70.76 L312.02,71.16 L312.52,71.62 L313.00,72.08 L313.47,72.55 L313.94,73.02 L314.39,73.50 L314.83,73.98 L315.27,74.47 L315.69,74.96 L316.11,75.45 L316.52,75.95 L316.93,76.45 L317.32,76.96 L317.72,77.47 L318.10,77.98 L318.48,78.50 L318.86,79.01 L319.23,79.53 L319.59,80.06 L319.95,80.59 L320.31,81.12 L320.66,81.65 L321.01,82.18 L321.36,82.72 L321.70,83.26 L322.03,83.80 L322.37,84.34 L322.70,84.89 L323.03,85.44 L323.35,85.99 L323.67,86.54 L323.99,87.10 L324.31,87.65 L324.62,88.21 L324.93,88.77 L325.24,89.33 L325.55,89.90 L325.85,90.46 L326.15,91.03 L326.45,91.60 L326.75,92.17 L327.04,92.74 L327.34,93.32 L327.63,93.89 L327.92,94.47 L328.21,95.05 L328.49,95.63 L328.78,96.21 L329.06,96.80 L329.34,97.38 L329.62,97.97 L329.90,98.56 L330.18,99.15 L330.45,99.74 L330.72,100.33 L331.00,100.92 L331.27,101.52 L331.54,102.12 L331.81,102.71 L332.07,103.31 L332.34,103.91 L332.60,104.52 L332.87,105.12 L333.13,105.72 L333.39,106.33 L333.65,106.94 L333.91,107.54 L334.17,108.15 L334.42,108.77 L334.68,109.38 L334.94,109.99 L335.19,110.61 L335.44,111.22 L335.69,111.84 L335.95,112.46 L336.20,113.07 L336.45,113.70 L336.69,114.32 L336.94,114.94 L337.19,115.56 L337.44,116.19 L337.68,116.81 L337.93,117.44 L338.17,118.07 L338.41,118.70 L338.63,119.26 L338.84,119.82 L339.06,120.38 L339.27,120.95 L339.49,121.51 L339.70,122.08 L339.91,122.64 L340.12,123.21 L340.33,123.77 L340.54,124.34 L340.75,124.91 L340.96,125.48 L341.17,126.05 L341.38,126.62 L341.59,127.20 L341.80,127.77 L342.01,128.34 L342.21,128.92 L342.42,129.49 L342.63,130.07 L342.83,130.65 L343.04,131.22 L343.24,131.80 L343.45,132.38 L343.65,132.96 L343.85,133.54 L344.06,134.12 L344.26,134.71 L344.46,135.29 L344.67,135.87 L344.87,136.46 L345.07,137.04 L345.27,137.63 L345.47,138.22 L345.67,138.81 L345.87,139.39 L346.07,139.98 L346.27,140.57 L346.47,141.17 L346.67,141.76 L346.87,142.35 L347.06,142.94 L347.26,143.54 L347.46,144.13 L347.66,144.73 L347.85,145.32 L348.05,145.92 L348.24,146.52 L348.44,147.12 L348.64,147.71 L348.83,148.31 L349.03,148.92 L349.22,149.52 L349.42,150.12 L349.61,150.72 L349.80,151.32 L350.00,151.93 L350.19,152.53 L350.38,153.14 L350.58,153.75 L350.77,154.35 L350.96,154.96 L351.15,155.57 L351.34,156.18 L351.54,156.79 L351.73,157.40 L351.92,158.01 L352.11,158.62 L352.30,159.23 L352.49,159.85 L352.68,160.46 L352.87,161.08 L353.06,161.69 L353.15,162.00" stroke="#2e32a8" stroke-width="1.3" fill="none" stroke-dasharray="2.5 0.6 0.9 0.6"/>
<path d="M34.9,335.0 L339.0,335.0 M34.9,199.3 L339.0,199.3" stroke="#b2b2b2" stroke-width="0.55" fill="none"/>
<path d="M34.9,199.3 L34.9,335.0" stroke="#8e8e8e" stroke-width="0.55" fill="none"/>
<path d="M339.0,199.3 L339.0,335.0" stroke="#a3aedb" stroke-width="0.6" fill="none"/>
<path d="M34.90,335.0 L34.90,332.8 M34.90,199.3 L34.90,201.5 M68.69,335.0 L68.69,332.8 M68.69,199.3 L68.69,201.5 M102.48,335.0 L102.48,332.8 M102.48,199.3 L102.48,201.5 M136.27,335.0 L136.27,332.8 M136.27,199.3 L136.27,201.5 M170.06,335.0 L170.06,332.8 M170.06,199.3 L170.06,201.5 M203.84,335.0 L203.84,332.8 M203.84,199.3 L203.84,201.5 M237.63,335.0 L237.63,332.8 M237.63,199.3 L237.63,201.5 M271.42,335.0 L271.42,332.8 M271.42,199.3 L271.42,201.5 M305.21,335.0 L305.21,332.8 M305.21,199.3 L305.21,201.5 M339.00,335.0 L339.00,332.8 M339.00,199.3 L339.00,201.5 M34.9,335.00 L37.1,335.00 M34.9,321.43 L37.1,321.43 M34.9,307.86 L37.1,307.86 M34.9,294.29 L37.1,294.29 M34.9,280.72 L37.1,280.72 M34.9,267.15 L37.1,267.15 M34.9,253.58 L37.1,253.58 M34.9,240.01 L37.1,240.01 M34.9,226.44 L37.1,226.44 M34.9,212.87 L37.1,212.87 M34.9,199.30 L37.1,199.30" stroke="#9a9a9a" stroke-width="0.5" fill="none"/>
<path d="M339.0,335.00 L336.8,335.00 M339.0,312.38 L336.8,312.38 M339.0,289.77 L336.8,289.77 M339.0,267.15 L336.8,267.15 M339.0,244.53 L336.8,244.53 M339.0,221.92 L336.8,221.92 M339.0,199.30 L336.8,199.30" stroke="#a9b3dc" stroke-width="0.5" fill="none"/>
<g font-size="4.0" fill="#262626" stroke="#262626" text-anchor="middle" style="stroke-width:0.14px">
<text x="34.90" y="341.00">0</text>
<text x="68.69" y="341.00">10</text>
<text x="102.48" y="341.00">20</text>
<text x="136.27" y="341.00">30</text>
<text x="170.06" y="341.00">40</text>
<text x="203.84" y="341.00">50</text>
<text x="237.63" y="341.00">60</text>
<text x="271.42" y="341.00">70</text>
<text x="305.21" y="341.00">80</text>
<text x="339.00" y="341.00">90</text>
</g>
<g font-size="4.0" fill="#262626" stroke="#262626" text-anchor="end" style="stroke-width:0.14px">
<text x="32.70" y="336.94">0</text>
<text x="32.70" y="323.37">2</text>
<text x="32.70" y="309.80">4</text>
<text x="32.70" y="296.23">6</text>
<text x="32.70" y="282.66">8</text>
<text x="32.70" y="269.09">10</text>
<text x="32.70" y="255.52">12</text>
<text x="32.70" y="241.95">14</text>
<text x="32.70" y="228.38">16</text>
<text x="32.70" y="214.81">18</text>
<text x="32.70" y="201.24">20</text>
</g>
<g font-size="4.0" fill="#5a86c6" stroke="#5a86c6" text-anchor="start" style="stroke-width:0.1px">
<text x="341.20" y="336.94">0</text>
<text x="341.20" y="314.32">200</text>
<text x="341.20" y="291.71">400</text>
<text x="341.20" y="269.09">600</text>
<text x="341.20" y="246.47">800</text>
<text x="341.20" y="223.86">1000</text>
<text x="341.20" y="201.24">1200</text>
</g>
<path d="M129.98,222.37 L131.81,222.37 L133.63,222.37 L135.46,222.37 L137.28,222.37 L139.11,222.37 L140.93,222.37 L142.76,222.37 L144.58,222.37 L146.41,222.37 L148.23,222.37 L150.06,222.37 L151.88,222.37 L153.71,222.37 L155.53,222.37 L157.36,222.37 L159.18,222.37 L161.01,222.37 L162.83,222.37 L164.66,222.37 L166.48,222.37 L168.31,222.37 L170.13,222.38 L171.96,222.38 L173.78,222.38 L175.61,222.38 L177.43,222.38 L179.26,222.38 L181.08,222.38 L182.91,222.38 L184.73,222.39 L186.56,222.39 L188.38,222.39 L190.21,222.39 L192.04,222.40 L193.86,222.40 L195.69,222.40 L197.51,222.41 L199.34,222.42 L201.17,222.42 L202.99,222.43 L204.82,222.44 L206.65,222.45 L208.47,222.46 L210.30,222.47 L212.13,222.48 L213.96,222.50 L215.79,222.51 L217.62,222.53 L219.45,222.55 L221.28,222.58 L223.11,222.61 L224.94,222.64 L226.77,222.68 L228.61,222.72 L230.44,222.76 L232.28,222.82 L234.12,222.88 L235.96,222.95 L237.80,223.02 L239.65,223.11 L241.50,223.21 L243.35,223.33 L245.20,223.46 L247.06,223.60 L248.92,223.77 L250.79,223.96 L252.66,224.17 L254.54,224.42 L256.43,224.69 L258.32,225.01 L260.23,225.36 L262.15,225.76 L264.07,226.22 L266.02,226.74 L267.97,227.33 L269.95,228.00 L270.54,228.21 L271.10,228.43 L271.83,228.71 L272.53,229.00 L273.21,229.29 L273.85,229.57 L274.48,229.86 L275.08,230.14 L275.67,230.43 L276.23,230.71 L276.78,231.00 L277.32,231.28 L277.97,231.64 L278.59,232.00 L279.20,232.35 L279.78,232.71 L280.35,233.07 L280.91,233.43 L281.45,233.78 L281.97,234.14 L282.48,234.50 L282.98,234.85 L283.47,235.21 L284.04,235.64 L284.59,236.07 L285.13,236.49 L285.66,236.92 L286.18,237.35 L286.68,237.78 L287.17,238.21 L287.65,238.64 L288.13,239.06 L288.59,239.49 L289.04,239.92 L289.49,240.35 L289.92,240.78 L290.35,241.21 L290.77,241.63 L291.25,242.13 L291.73,242.63 L292.19,243.13 L292.65,243.63 L293.09,244.13 L293.53,244.63 L293.97,245.13 L294.39,245.63 L294.81,246.13 L295.23,246.63 L295.63,247.13 L296.03,247.63 L296.43,248.13 L296.82,248.63 L297.20,249.13 L297.58,249.63 L297.96,250.13 L298.33,250.63 L298.69,251.13 L299.05,251.63 L299.41,252.13 L299.76,252.63 L300.11,253.13 L300.46,253.63 L300.80,254.13 L301.14,254.63 L301.47,255.13 L301.85,255.70 L302.22,256.27 L302.59,256.84 L302.96,257.41 L303.32,257.98 L303.68,258.55 L304.04,259.12 L304.39,259.69 L304.73,260.26 L305.08,260.84 L305.42,261.41 L305.76,261.98 L306.09,262.55 L306.43,263.12 L306.76,263.69 L307.08,264.26 L307.41,264.83 L307.73,265.40 L308.05,265.98 L308.36,266.55 L308.68,267.12 L308.99,267.69 L309.30,268.26 L309.61,268.83 L309.91,269.40 L310.22,269.97 L310.52,270.54 L310.82,271.11 L311.11,271.69 L311.41,272.26 L311.70,272.83 L311.99,273.40 L312.28,273.97 L312.57,274.54 L312.85,275.11 L313.14,275.68 L313.42,276.25 L313.70,276.82 L313.98,277.40 L314.26,277.97 L314.54,278.54 L314.81,279.11 L315.08,279.68 L315.35,280.25 L315.63,280.82 L315.89,281.39 L316.16,281.96 L316.43,282.54 L316.69,283.11 L316.96,283.68 L317.22,284.25 L317.48,284.82 L317.74,285.39 L318.00,285.96 L318.26,286.53 L318.52,287.10 L318.77,287.67 L319.03,288.25 L319.28,288.82 L319.53,289.39 L319.78,289.96 L320.03,290.53 L320.28,291.10 L320.53,291.67 L320.78,292.24 L321.02,292.81 L321.27,293.39 L321.51,293.96 L321.76,294.53 L322.00,295.10 L322.24,295.67 L322.48,296.24 L322.72,296.81 L322.96,297.38 L323.20,297.95 L323.44,298.52 L323.67,299.10 L323.91,299.67 L324.14,300.24 L324.38,300.81 L324.61,301.38 L324.84,301.95 L325.08,302.52 L325.31,303.09 L325.54,303.66 L325.77,304.23 L326.00,304.81 L326.22,305.38 L326.45,305.95 L326.68,306.52 L326.91,307.09 L327.13,307.66 L327.36,308.23 L327.58,308.80 L327.81,309.37 L328.03,309.95 L328.25,310.52 L328.47,311.09 L328.69,311.66 L328.92,312.23 L329.14,312.80 L329.35,313.37 L329.57,313.94 L329.79,314.51 L330.01,315.08 L330.23,315.66 L330.44,316.23 L330.66,316.80 L330.88,317.37 L331.09,317.94 L331.31,318.51 L331.52,319.08 L331.74,319.65 L331.95,320.22 L332.16,320.80 L332.37,321.37 L332.59,321.94 L332.80,322.51 L333.01,323.08 L333.22,323.65 L333.43,324.22 L333.64,324.79 L333.85,325.36 L334.05,325.93 L334.26,326.51 L334.47,327.08 L334.68,327.65 L334.88,328.22 L335.09,328.79 L335.30,329.36 L335.50,329.93 L335.71,330.50 L335.91,331.07 L336.12,331.65 L336.32,332.22 L336.53,332.79 L336.73,333.36 L336.93,333.93 L337.13,334.50 L337.31,335.00" stroke="#8c5a3e" stroke-width="1.25" fill="none"/>
<path d="M34.90,222.37 L36.25,222.37 L37.03,222.37 L37.81,222.37 L38.59,222.37 L39.38,222.37 L40.17,222.37 L40.96,222.37 L41.75,222.37 L42.55,222.37 L43.35,222.37 L44.15,222.37 L44.95,222.37 L45.75,222.37 L46.55,222.37 L47.35,222.37 L48.16,222.37 L48.96,222.37 L49.77,222.37 L50.57,222.37 L51.38,222.37 L52.19,222.37 L52.99,222.37 L53.80,222.37 L54.61,222.37 L55.42,222.37 L56.22,222.37 L57.03,222.37 L57.84,222.37 L58.65,222.37 L59.46,222.37 L60.27,222.37 L61.08,222.37 L61.89,222.37 L62.70,222.37 L63.51,222.37 L64.32,222.37 L65.13,222.37 L65.94,222.37 L66.75,222.37 L67.56,222.37 L68.36,222.37 L69.17,222.37 L69.98,222.37 L70.79,222.37 L71.60,222.37 L72.41,222.37 L73.22,222.37 L74.03,222.37 L74.84,222.37 L75.65,222.37 L76.46,222.37 L77.27,222.37 L78.08,222.37 L78.89,222.37 L79.70,222.37 L80.51,222.37 L81.32,222.37 L82.13,222.37 L82.94,222.37 L83.75,222.37 L84.56,222.37 L85.37,222.37 L86.18,222.37 L86.99,222.37 L87.80,222.37 L88.61,222.37 L89.42,222.37 L90.23,222.37 L91.04,222.37 L91.86,222.37 L92.67,222.37 L93.48,222.37 L94.29,222.37 L95.10,222.37 L95.91,222.37 L96.72,222.37 L97.53,222.37 L98.34,222.37 L99.15,222.37 L99.96,222.37 L100.77,222.37 L101.58,222.37 L102.39,222.37 L103.20,222.38 L104.01,222.38 L104.82,222.38 L105.63,222.38 L106.44,222.38 L107.25,222.38 L108.06,222.38 L108.87,222.38 L109.68,222.39 L110.49,222.39 L111.30,222.39 L112.11,222.39 L112.92,222.40 L113.73,222.40 L114.54,222.41 L115.35,222.41 L116.16,222.42 L116.98,222.42 L117.79,222.43 L118.60,222.44 L119.41,222.45 L120.22,222.46 L121.03,222.47 L121.85,222.49 L122.66,222.50 L123.47,222.52 L124.29,222.54 L125.10,222.56 L125.91,222.59 L126.73,222.62 L127.54,222.65 L128.36,222.69 L129.18,222.73 L130.00,222.78 L130.82,222.83 L131.64,222.89 L132.46,222.97 L133.28,223.04 L134.11,223.14 L134.93,223.24 L135.76,223.35 L136.59,223.49 L137.43,223.64 L138.27,223.80 L139.11,224.00 L139.96,224.21 L140.81,224.46 L141.66,224.74 L142.53,225.06 L143.40,225.42 L144.28,225.83 L145.16,226.29 L145.69,226.59 L146.33,226.99 L146.93,227.39 L147.49,227.78 L148.02,228.18 L148.51,228.58 L148.98,228.98 L149.53,229.47 L150.05,229.97 L150.54,230.47 L151.01,230.97 L151.45,231.46 L151.88,231.96 L152.29,232.46 L152.68,232.96 L153.06,233.45 L153.43,233.95 L153.78,234.45 L154.12,234.95 L154.52,235.54 L154.91,236.14 L155.28,236.74 L155.64,237.33 L156.00,237.93 L156.34,238.53 L156.67,239.12 L157.00,239.72 L157.31,240.32 L157.62,240.91 L157.93,241.51 L158.23,242.11 L158.52,242.71 L158.80,243.30 L159.09,243.90 L159.36,244.50 L159.63,245.09 L159.90,245.69 L160.16,246.29 L160.42,246.88 L160.68,247.48 L160.93,248.08 L161.17,248.67 L161.42,249.27 L161.66,249.87 L161.90,250.47 L162.13,251.06 L162.37,251.66 L162.59,252.26 L162.82,252.85 L163.05,253.45 L163.27,254.05 L163.49,254.64 L163.71,255.24 L163.92,255.84 L164.14,256.43 L164.35,257.03 L164.56,257.63 L164.77,258.22 L164.97,258.82 L165.18,259.42 L165.38,260.02 L165.58,260.61 L165.78,261.21 L165.98,261.81 L166.17,262.40 L166.37,263.00 L166.56,263.60 L166.75,264.19 L166.95,264.79 L167.13,265.39 L167.32,265.98 L167.51,266.58 L167.70,267.18 L167.88,267.78 L168.07,268.37 L168.25,268.97 L168.43,269.57 L168.61,270.16 L168.79,270.76 L168.97,271.36 L169.15,271.95 L169.32,272.55 L169.50,273.15 L169.67,273.74 L169.85,274.34 L170.02,274.94 L170.19,275.53 L170.37,276.13 L170.54,276.73 L170.71,277.33 L170.88,277.92 L171.04,278.52 L171.21,279.12 L171.38,279.71 L171.55,280.31 L171.71,280.91 L171.88,281.50 L172.04,282.10 L172.20,282.70 L172.37,283.29 L172.53,283.89 L172.69,284.49 L172.85,285.09 L173.01,285.68 L173.17,286.28 L173.33,286.88 L173.49,287.47 L173.65,288.07 L173.81,288.67 L173.97,289.26 L174.12,289.86 L174.28,290.46 L174.43,291.05 L174.59,291.65 L174.75,292.25 L174.90,292.84 L175.05,293.44 L175.21,294.04 L175.36,294.64 L175.51,295.23 L175.67,295.83 L175.82,296.43 L175.97,297.02 L176.12,297.62 L176.27,298.22 L176.42,298.81 L176.57,299.41 L176.72,300.01 L176.87,300.60 L177.69,300.80 L178.60,300.80 L179.52,300.80 L180.43,300.80 L181.35,300.80 L182.27,300.80 L183.18,300.80 L184.10,300.80 L185.01,300.80 L185.93,300.80 L186.84,300.80 L187.76,300.80 L188.67,300.80 L189.59,300.80 L190.51,300.80 L191.42,300.80 L192.34,300.80 L193.25,300.80 L194.17,300.80 L195.08,300.80 L196.00,300.80 L196.91,300.80 L197.83,300.80 L198.75,300.80 L199.66,300.80 L200.58,300.80 L201.49,300.80 L202.41,300.80 L203.32,300.80 L204.24,300.80 L205.15,300.80 L206.07,300.80 L206.99,300.80 L207.90,300.80 L208.82,300.80 L209.73,300.80 L210.65,300.80 L211.56,300.80 L212.48,300.80 L213.39,300.80 L214.31,300.80 L215.23,300.80 L216.14,300.80 L217.06,300.80 L217.97,300.80 L218.89,300.80 L219.80,300.80 L220.72,300.80 L221.63,300.80 L222.55,300.80 L223.47,300.80 L224.38,300.80 L225.30,300.80 L226.21,300.80 L227.13,300.80 L228.04,300.80 L228.96,300.80 L229.88,300.80 L230.79,300.80 L231.71,300.80 L232.62,300.80 L233.54,300.80 L234.45,300.80 L235.37,300.80 L236.28,300.80 L237.20,300.80 L238.12,300.80 L239.03,300.80 L239.95,300.80 L240.86,300.80 L241.78,300.80 L242.69,300.80 L243.61,300.80 L244.52,300.80 L245.44,300.80 L246.36,300.80 L247.27,300.80 L248.19,300.80 L249.10,300.80 L250.02,300.80 L250.93,300.80 L251.85,300.80 L252.76,300.80 L253.68,300.80 L254.60,300.80 L255.51,300.80 L256.43,300.80 L257.34,300.80 L258.26,300.80 L259.17,300.80 L260.09,300.80 L261.00,300.80 L261.92,300.80 L262.84,300.80 L263.75,300.80 L264.67,300.80 L265.58,300.80 L266.50,300.80 L267.41,300.80 L268.33,300.80 L269.25,300.80 L270.16,300.80 L271.08,300.80 L271.99,300.80 L272.91,300.80 L273.82,300.80 L274.74,300.81 L275.66,300.81 L276.57,300.81 L277.49,300.81 L278.40,300.81 L279.32,300.81 L280.24,300.81 L281.15,300.81 L282.07,300.82 L282.99,300.82 L283.91,300.82 L284.82,300.83 L285.74,300.84 L286.66,300.85 L287.59,300.86 L288.51,300.87 L289.44,300.89 L290.37,300.92 L291.30,300.95 L292.24,300.99 L293.18,301.04 L294.14,301.11 L295.10,301.19 L296.08,301.30 L297.07,301.44 L298.08,301.62 L299.13,301.85 L300.21,302.14 L301.33,302.51 L301.90,302.73 L302.46,302.97 L303.03,303.23 L303.60,303.51 L304.16,303.81 L304.69,304.12 L305.21,304.44 L305.75,304.79 L306.25,305.14 L306.76,305.50 L307.25,305.87 L307.74,306.26 L308.21,306.65 L308.67,307.04 L309.14,307.45 L309.59,307.87 L310.03,308.28 L310.49,308.71 L310.93,309.15 L311.36,309.58 L311.78,310.01 L312.21,310.47 L312.64,310.92 L313.06,311.38 L313.47,311.83 L313.87,312.29 L314.27,312.74 L314.67,313.20 L315.07,313.67 L315.48,314.15 L315.87,314.63 L316.27,315.10 L316.66,315.58 L317.04,316.06 L317.42,316.54 L317.80,317.01 L318.18,317.49 L318.55,317.97 L318.92,318.44 L319.28,318.92 L319.66,319.42 L320.04,319.92 L320.41,320.41 L320.79,320.91 L321.16,321.41 L321.53,321.91 L321.89,322.41 L322.26,322.91 L322.62,323.41 L322.98,323.90 L323.34,324.40 L323.69,324.90 L324.05,325.40 L324.40,325.90 L324.76,326.40 L325.11,326.89 L325.46,327.39 L325.80,327.89 L326.15,328.39 L326.50,328.89 L326.84,329.39 L327.19,329.89 L327.53,330.38 L327.87,330.88 L328.21,331.38 L328.55,331.88 L328.89,332.38 L329.23,332.88 L329.56,333.37 L329.90,333.87 L330.23,334.37 L330.57,334.87 L330.65,335.00" stroke="#68b53c" stroke-width="1.25" fill="none"/>
<path d="M34.90,261.93 L36.50,261.93 L37.88,261.93 L39.32,261.93 L40.79,261.93 L42.31,261.93 L43.87,261.93 L45.46,261.93 L47.08,261.93 L48.73,261.93 L50.41,261.93 L52.12,261.93 L53.84,261.93 L55.59,261.93 L57.36,261.93 L59.14,261.93 L60.93,261.93 L62.74,261.93 L64.56,261.93 L66.40,261.93 L68.24,261.93 L70.09,261.93 L71.94,261.93 L73.81,261.93 L75.68,261.93 L77.55,261.93 L79.43,261.93 L81.31,261.93 L83.20,261.93 L85.09,261.93 L86.98,261.93 L88.88,261.93 L90.78,261.93 L92.68,261.93 L94.58,261.93 L96.48,261.93 L98.38,261.93 L100.29,261.93 L102.20,261.93 L104.10,261.93 L106.01,261.93 L107.92,261.93 L109.83,261.93 L111.74,261.93 L113.65,261.93 L115.56,261.93 L117.47,261.93 L119.39,261.93 L121.30,261.93 L123.21,261.93 L125.12,261.93 L127.04,261.93 L128.95,261.93 L130.86,261.93 L132.78,261.93 L134.69,261.93 L136.60,261.93 L138.52,261.93 L140.43,261.93 L142.34,261.93 L144.26,261.93 L146.17,261.93 L148.09,261.93 L150.00,261.93 L151.91,261.93 L153.83,261.93 L155.74,261.93 L157.66,261.93 L159.57,261.93 L161.49,261.93 L163.40,261.93 L165.32,261.93 L167.23,261.93 L169.14,261.93 L171.06,261.93 L172.97,261.93 L174.89,261.93 L176.80,261.93 L178.72,261.94 L180.63,261.94 L182.55,261.94 L184.46,261.94 L186.38,261.94 L188.29,261.94 L190.21,261.95 L192.12,261.95 L194.04,261.95 L195.95,261.96 L197.87,261.96 L199.78,261.97 L201.70,261.97 L203.61,261.98 L205.53,261.98 L207.45,261.99 L209.36,262.00 L211.28,262.01 L213.20,262.02 L215.12,262.03 L217.03,262.05 L218.95,262.07 L220.87,262.08 L222.79,262.11 L224.71,262.13 L226.63,262.16 L228.55,262.19 L230.48,262.22 L232.40,262.26 L234.32,262.31 L236.25,262.36 L238.18,262.42 L240.11,262.48 L242.04,262.56 L243.98,262.64 L245.91,262.74 L247.85,262.85 L249.80,262.97 L251.75,263.11 L253.70,263.27 L255.65,263.44 L257.62,263.65 L259.59,263.88 L261.56,264.14 L263.55,264.43 L265.54,264.77 L267.55,265.15 L269.56,265.58 L270.17,265.72 L270.94,265.90 L271.68,266.09 L272.39,266.27 L273.07,266.46 L273.72,266.64 L274.35,266.83 L274.96,267.01 L275.55,267.20 L276.12,267.39 L276.81,267.62 L277.48,267.85 L278.12,268.08 L278.74,268.31 L279.34,268.54 L279.92,268.77 L280.48,269.01 L281.13,269.28 L281.76,269.56 L282.38,269.84 L282.97,270.12 L283.54,270.40 L284.10,270.67 L284.65,270.95 L285.26,271.28 L285.86,271.60 L286.44,271.92 L287.00,272.25 L287.55,272.57 L288.09,272.90 L288.61,273.22 L289.12,273.54 L289.69,273.92 L290.24,274.29 L290.78,274.66 L291.30,275.03 L291.82,275.40 L292.32,275.77 L292.81,276.14 L293.29,276.51 L293.82,276.93 L294.34,277.34 L294.84,277.76 L295.34,278.18 L295.83,278.59 L296.30,279.01 L296.77,279.43 L297.23,279.84 L297.68,280.26 L298.12,280.68 L298.56,281.09 L299.03,281.56 L299.50,282.02 L299.95,282.48 L300.40,282.95 L300.85,283.41 L301.28,283.87 L301.71,284.34 L302.13,284.80 L302.55,285.26 L302.96,285.72 L303.36,286.19 L303.76,286.65 L304.16,287.11 L304.54,287.58 L304.93,288.04 L305.34,288.55 L305.75,289.06 L306.16,289.57 L306.56,290.08 L306.95,290.59 L307.34,291.10 L307.73,291.61 L308.11,292.12 L308.49,292.63 L308.86,293.13 L309.23,293.64 L309.59,294.15 L309.95,294.66 L310.31,295.17 L310.66,295.68 L311.01,296.19 L311.36,296.70 L311.70,297.21 L312.04,297.72 L312.38,298.23 L312.71,298.74 L313.04,299.25 L313.37,299.76 L313.70,300.27 L314.02,300.78 L314.34,301.29 L314.66,301.79 L315.00,302.35 L315.34,302.91 L315.68,303.46 L316.01,304.02 L316.35,304.57 L316.68,305.13 L317.00,305.68 L317.33,306.24 L317.65,306.80 L317.97,307.35 L318.29,307.91 L318.60,308.46 L318.92,309.02 L319.23,309.58 L319.54,310.13 L319.85,310.69 L320.15,311.24 L320.45,311.80 L320.76,312.35 L321.05,312.91 L321.35,313.47 L321.65,314.02 L321.94,314.58 L322.23,315.13 L322.53,315.69 L322.81,316.24 L323.10,316.80 L323.39,317.36 L323.67,317.91 L323.96,318.47 L324.24,319.02 L324.52,319.58 L324.80,320.13 L325.07,320.69 L325.35,321.25 L325.62,321.80 L325.90,322.36 L326.17,322.91 L326.44,323.47 L326.71,324.02 L326.98,324.58 L327.24,325.14 L327.51,325.69 L327.77,326.25 L328.04,326.80 L328.30,327.36 L328.56,327.91 L328.82,328.47 L329.08,329.03 L329.34,329.58 L329.60,330.14 L329.85,330.69 L330.11,331.25 L330.36,331.80 L330.61,332.36 L330.87,332.92 L331.12,333.47 L331.37,334.03 L331.62,334.58 L331.80,335.00" stroke="#2e32a8" stroke-width="1.25" fill="none"/>
<path d="M34.90,335.00 L35.79,334.50 L37.34,333.64 L38.91,332.77 L40.51,331.88 L42.14,330.98 L43.78,330.06 L45.45,329.14 L47.13,328.20 L48.83,327.26 L50.54,326.31 L52.27,325.35 L54.00,324.39 L55.75,323.42 L57.51,322.44 L59.27,321.46 L61.04,320.48 L62.82,319.49 L64.60,318.50 L66.39,317.51 L68.18,316.51 L69.97,315.51 L71.77,314.52 L73.57,313.51 L75.38,312.51 L77.19,311.51 L79.00,310.50 L80.81,309.50 L82.62,308.49 L84.43,307.48 L86.25,306.47 L88.07,305.46 L89.88,304.45 L91.70,303.44 L93.52,302.43 L95.34,301.42 L97.16,300.41 L98.98,299.40 L100.80,298.39 L102.63,297.37 L104.45,296.36 L106.27,295.35 L108.09,294.34 L109.92,293.32 L111.74,292.31 L113.56,291.30 L115.39,290.28 L117.21,289.27 L119.04,288.26 L120.86,287.24 L122.68,286.23 L124.51,285.22 L126.33,284.20 L128.16,283.19 L129.98,282.18 L131.81,281.16 L133.63,280.15 L135.46,279.14 L137.28,278.12 L139.11,277.11 L140.93,276.09 L142.76,275.08 L144.58,274.07 L146.41,273.05 L148.23,272.04 L150.06,271.03 L151.88,270.01 L153.71,269.00 L155.53,267.98 L157.36,266.97 L159.18,265.96 L161.01,264.94 L162.83,263.93 L164.66,262.92 L166.48,261.90 L168.31,260.89 L170.13,259.87 L171.96,258.86 L173.78,257.85 L175.61,256.84 L177.43,255.82 L179.26,254.81 L181.08,253.80 L182.91,252.78 L184.73,251.77 L186.56,250.76 L188.38,249.75 L190.21,248.73 L192.04,247.72 L193.86,246.71 L195.69,245.70 L197.51,244.69 L199.34,243.68 L201.17,242.67 L202.99,241.66 L204.82,240.66 L206.65,239.65 L208.47,238.64 L210.30,237.64 L212.13,236.64 L213.96,235.63 L215.79,234.63 L217.62,233.64 L219.45,232.64 L221.28,231.65 L223.11,230.66 L224.94,229.67 L226.77,228.69 L228.61,227.72 L230.44,226.74 L232.28,225.78 L234.12,224.82 L235.96,223.87 L237.80,222.93 L239.65,222.00 L241.50,221.08 L243.35,220.18 L245.20,219.29 L247.06,218.42 L248.92,217.58 L250.79,216.75 L252.66,215.96 L254.54,215.19 L256.43,214.47 L258.32,213.78 L260.23,213.14 L262.15,212.56 L264.07,212.04 L266.02,211.59 L267.97,211.22 L269.95,210.94 L270.73,210.87 L271.47,210.81 L272.19,210.77 L272.87,210.74 L273.53,210.73 L274.17,210.74 L274.78,210.76 L275.52,210.80 L276.23,210.86 L276.92,210.93 L277.58,211.02 L278.22,211.12 L278.84,211.24 L279.43,211.36 L280.13,211.53 L280.80,211.71 L281.45,211.91 L282.07,212.12 L282.68,212.34 L283.28,212.57 L283.85,212.81 L284.41,213.06 L284.96,213.33 L285.58,213.64 L286.18,213.97 L286.76,214.31 L287.33,214.66 L287.89,215.01 L288.43,215.38 L288.97,215.76 L289.49,216.14 L289.99,216.53 L290.49,216.93 L290.98,217.34 L291.46,217.75 L291.93,218.17 L292.39,218.59 L292.84,219.03 L293.28,219.46 L293.72,219.90 L294.15,220.35 L294.57,220.81 L294.99,221.26 L295.40,221.73 L295.80,222.19 L296.20,222.66 L296.60,223.14 L296.98,223.62 L297.37,224.11 L297.74,224.59 L298.12,225.09 L298.48,225.58 L298.85,226.08 L299.21,226.58 L299.56,227.09 L299.91,227.60 L300.26,228.11 L300.61,228.63 L300.95,229.15 L301.28,229.67 L301.62,230.20 L301.94,230.73 L302.27,231.26 L302.59,231.79 L302.92,232.33 L303.23,232.87 L303.55,233.41 L303.86,233.96 L304.17,234.50 L304.47,235.05 L304.78,235.61 L305.08,236.16 L305.38,236.72 L305.67,237.28 L305.97,237.84 L306.26,238.41 L306.55,238.97 L306.84,239.54 L307.12,240.11 L307.41,240.68 L307.69,241.26 L307.97,241.84 L308.25,242.41 L308.52,243.00 L308.80,243.58 L309.07,244.16 L309.34,244.75 L309.61,245.34 L309.87,245.93 L310.14,246.52 L310.40,247.12 L310.67,247.71 L310.93,248.31 L311.19,248.91 L311.44,249.51 L311.70,250.11 L311.95,250.72 L312.21,251.32 L312.46,251.93 L312.71,252.54 L312.96,253.15 L313.21,253.77 L313.46,254.38 L313.70,255.00 L313.95,255.61 L314.19,256.23 L314.43,256.85 L314.67,257.48 L314.91,258.10 L315.15,258.73 L315.39,259.35 L315.63,259.98 L315.86,260.61 L316.10,261.24 L316.33,261.87 L316.56,262.51 L316.79,263.14 L317.02,263.78 L317.25,264.42 L317.48,265.06 L317.71,265.70 L317.94,266.34 L318.16,266.98 L318.39,267.63 L318.61,268.27 L318.83,268.92 L319.06,269.57 L319.28,270.22 L319.50,270.87 L319.72,271.52 L319.94,272.17 L320.16,272.83 L320.37,273.49 L320.59,274.14 L320.81,274.80 L321.02,275.46 L321.24,276.12 L321.45,276.79 L321.66,277.45 L321.88,278.11 L322.09,278.78 L322.30,279.45 L322.48,280.02 L322.66,280.59 L322.84,281.17 L323.02,281.74 L323.20,282.32 L323.38,282.89 L323.55,283.47 L323.73,284.05 L323.91,284.63 L324.08,285.21 L324.26,285.79 L324.44,286.37 L324.61,286.96 L324.79,287.54 L324.96,288.12 L325.13,288.71 L325.31,289.29 L325.48,289.88 L325.65,290.47 L325.82,291.06 L326.00,291.65 L326.17,292.24 L326.34,292.83 L326.51,293.42 L326.68,294.01 L326.85,294.60 L327.02,295.20 L327.19,295.79 L327.36,296.39 L327.53,296.98 L327.69,297.58 L327.86,298.18 L328.03,298.77 L328.20,299.37 L328.36,299.97 L328.53,300.57 L328.69,301.17 L328.86,301.78 L329.03,302.38 L329.19,302.98 L329.35,303.59 L329.52,304.19 L329.68,304.80 L329.85,305.40 L330.01,306.01 L330.17,306.62 L330.34,307.23 L330.50,307.84 L330.66,308.45 L330.82,309.06 L330.98,309.67 L331.15,310.28 L331.31,310.89 L331.47,311.51 L331.63,312.12 L331.79,312.73 L331.95,313.35 L332.11,313.97 L332.27,314.58 L332.43,315.20 L332.59,315.82 L332.74,316.44 L332.90,317.06 L333.06,317.68 L333.22,318.30 L333.38,318.92 L333.53,319.54 L333.69,320.17 L333.85,320.79 L334.00,321.41 L334.16,322.04 L334.31,322.67 L334.47,323.29 L334.63,323.92 L334.78,324.55 L334.94,325.18 L335.09,325.80 L335.25,326.43 L335.40,327.06 L335.55,327.70 L335.71,328.33 L335.86,328.96 L336.02,329.59 L336.17,330.23 L336.32,330.86 L336.47,331.50 L336.63,332.13 L336.78,332.77 L336.93,333.40 L337.08,334.04 L337.23,334.68 L337.31,335.00" stroke="#8c5a3e" stroke-width="1.3" fill="none" stroke-dasharray="2.5 0.6 0.9 0.6"/>
<path d="M34.90,335.00 L35.48,334.68 L36.25,334.25 L37.03,333.82 L37.81,333.38 L38.59,332.95 L39.38,332.51 L40.17,332.07 L40.96,331.63 L41.75,331.19 L42.55,330.75 L43.35,330.31 L44.15,329.86 L44.95,329.42 L45.75,328.97 L46.55,328.53 L47.35,328.08 L48.16,327.64 L48.96,327.19 L49.77,326.74 L50.57,326.29 L51.38,325.84 L52.19,325.40 L52.99,324.95 L53.80,324.50 L54.61,324.05 L55.42,323.60 L56.22,323.15 L57.03,322.70 L57.84,322.25 L58.65,321.80 L59.46,321.36 L60.27,320.91 L61.08,320.46 L61.89,320.01 L62.70,319.56 L63.51,319.11 L64.32,318.66 L65.13,318.21 L65.94,317.76 L66.75,317.31 L67.56,316.86 L68.36,316.41 L69.17,315.96 L69.98,315.51 L70.79,315.06 L71.60,314.61 L72.41,314.16 L73.22,313.71 L74.03,313.26 L74.84,312.81 L75.65,312.36 L76.46,311.91 L77.27,311.46 L78.08,311.01 L78.89,310.56 L79.70,310.11 L80.51,309.66 L81.32,309.21 L82.13,308.76 L82.94,308.31 L83.75,307.86 L84.56,307.41 L85.37,306.96 L86.18,306.51 L86.99,306.06 L87.80,305.61 L88.61,305.16 L89.42,304.71 L90.23,304.26 L91.04,303.81 L91.86,303.36 L92.67,302.91 L93.48,302.46 L94.29,302.01 L95.10,301.56 L95.91,301.11 L96.72,300.66 L97.53,300.21 L98.34,299.76 L99.15,299.31 L99.96,298.86 L100.77,298.41 L101.58,297.96 L102.39,297.51 L103.20,297.06 L104.01,296.61 L104.82,296.16 L105.63,295.71 L106.44,295.26 L107.25,294.81 L108.06,294.36 L108.87,293.91 L109.68,293.46 L110.49,293.01 L111.30,292.56 L112.11,292.11 L112.92,291.67 L113.73,291.22 L114.54,290.77 L115.35,290.32 L116.16,289.87 L116.98,289.42 L117.79,288.98 L118.60,288.53 L119.41,288.08 L120.22,287.64 L121.03,287.19 L121.85,286.75 L122.66,286.30 L123.47,285.86 L124.29,285.42 L125.10,284.97 L125.91,284.53 L126.73,284.10 L127.54,283.66 L128.36,283.22 L129.18,282.79 L130.00,282.36 L130.82,281.93 L131.64,281.51 L132.46,281.09 L133.28,280.67 L134.11,280.26 L134.93,279.85 L135.76,279.45 L136.59,279.06 L137.43,278.68 L138.27,278.30 L139.11,277.94 L139.96,277.59 L140.81,277.25 L141.66,276.94 L142.53,276.63 L143.40,276.36 L144.28,276.10 L145.16,275.87 L145.85,275.72 L146.49,275.60 L147.22,275.49 L147.89,275.41 L148.51,275.36 L149.20,275.34 L149.84,275.34 L150.44,275.37 L151.10,275.43 L151.71,275.52 L152.37,275.64 L152.99,275.79 L153.57,275.97 L154.19,276.19 L154.78,276.42 L155.34,276.68 L155.88,276.96 L156.45,277.28 L157.00,277.62 L157.52,277.97 L158.03,278.34 L158.52,278.72 L158.99,279.12 L159.45,279.52 L159.90,279.93 L160.33,280.36 L160.76,280.79 L161.17,281.23 L161.58,281.68 L161.98,282.14 L162.37,282.60 L162.75,283.07 L163.12,283.55 L163.49,284.03 L163.85,284.52 L164.21,285.02 L164.56,285.52 L164.90,286.02 L165.24,286.53 L165.58,287.05 L165.91,287.57 L166.24,288.10 L166.56,288.63 L166.88,289.16 L167.20,289.70 L167.51,290.25 L167.82,290.79 L168.13,291.35 L168.43,291.90 L168.73,292.46 L169.03,293.03 L169.32,293.59 L169.62,294.16 L169.91,294.74 L170.19,295.32 L170.48,295.90 L170.76,296.48 L171.04,297.07 L171.32,297.66 L171.60,298.26 L171.88,298.86 L172.15,299.46 L172.42,300.06 L172.69,300.67 L172.93,301.22 L173.17,301.77 L173.41,302.32 L173.65,302.88 L173.89,303.44 L174.12,304.00 L174.36,304.57 L174.59,305.13 L174.82,305.70 L175.05,306.27 L175.28,306.84 L175.51,307.42 L175.74,308.00 L175.97,308.57 L176.19,309.16 L176.42,309.74 L176.64,310.33 L176.87,310.91 L177.69,310.92 L178.60,310.76 L179.52,310.61 L180.43,310.45 L181.35,310.30 L182.27,310.14 L183.18,309.99 L184.10,309.83 L185.01,309.68 L185.93,309.53 L186.84,309.37 L187.76,309.22 L188.67,309.06 L189.59,308.91 L190.51,308.75 L191.42,308.60 L192.34,308.44 L193.25,308.29 L194.17,308.14 L195.08,307.98 L196.00,307.83 L196.91,307.67 L197.83,307.52 L198.75,307.36 L199.66,307.21 L200.58,307.05 L201.49,306.90 L202.41,306.75 L203.32,306.59 L204.24,306.44 L205.15,306.28 L206.07,306.13 L206.99,305.97 L207.90,305.82 L208.82,305.66 L209.73,305.51 L210.65,305.36 L211.56,305.20 L212.48,305.05 L213.39,304.89 L214.31,304.74 L215.23,304.58 L216.14,304.43 L217.06,304.27 L217.97,304.12 L218.89,303.97 L219.80,303.81 L220.72,303.66 L221.63,303.50 L222.55,303.35 L223.47,303.19 L224.38,303.04 L225.30,302.88 L226.21,302.73 L227.13,302.58 L228.04,302.42 L228.96,302.27 L229.88,302.11 L230.79,301.96 L231.71,301.80 L232.62,301.65 L233.54,301.49 L234.45,301.34 L235.37,301.19 L236.28,301.03 L237.20,300.88 L238.12,300.72 L239.03,300.57 L239.95,300.41 L240.86,300.26 L241.78,300.10 L242.69,299.95 L243.61,299.80 L244.52,299.64 L245.44,299.49 L246.36,299.33 L247.27,299.18 L248.19,299.02 L249.10,298.87 L250.02,298.71 L250.93,298.56 L251.85,298.41 L252.76,298.25 L253.68,298.10 L254.60,297.94 L255.51,297.79 L256.43,297.63 L257.34,297.48 L258.26,297.32 L259.17,297.17 L260.09,297.02 L261.00,296.86 L261.92,296.71 L262.84,296.55 L263.75,296.40 L264.67,296.24 L265.58,296.09 L266.50,295.93 L267.41,295.78 L268.33,295.63 L269.25,295.47 L270.16,295.32 L271.08,295.16 L271.99,295.01 L272.91,294.85 L273.82,294.70 L274.74,294.55 L275.66,294.39 L276.57,294.24 L277.49,294.09 L278.40,293.93 L279.32,293.78 L280.24,293.63 L281.15,293.47 L282.07,293.32 L282.99,293.17 L283.91,293.02 L284.82,292.88 L285.74,292.73 L286.66,292.59 L287.59,292.44 L288.51,292.31 L289.44,292.18 L290.37,292.05 L291.30,291.93 L292.24,291.83 L293.18,291.74 L294.14,291.66 L295.10,291.61 L296.08,291.59 L297.07,291.60 L298.08,291.66 L299.13,291.79 L300.21,292.00 L301.33,292.31 L301.95,292.52 L302.51,292.75 L303.07,293.00 L303.64,293.29 L304.20,293.60 L304.72,293.93 L305.25,294.28 L305.75,294.64 L306.25,295.03 L306.73,295.42 L307.19,295.82 L307.66,296.25 L308.11,296.68 L308.55,297.12 L308.97,297.56 L309.38,298.00 L309.80,298.47 L310.22,298.95 L310.62,299.42 L311.01,299.90 L311.40,300.39 L311.78,300.87 L312.15,301.36 L312.52,301.85 L312.88,302.34 L313.23,302.84 L313.59,303.33 L313.93,303.83 L314.27,304.33 L314.61,304.83 L314.95,305.33 L315.28,305.84 L315.60,306.34 L315.93,306.85 L316.25,307.36 L316.57,307.87 L316.88,308.38 L317.20,308.90 L317.51,309.41 L317.82,309.93 L318.12,310.45 L318.43,310.96 L318.73,311.49 L319.03,312.01 L319.33,312.53 L319.63,313.05 L319.92,313.58 L320.22,314.11 L320.51,314.64 L320.80,315.16 L321.09,315.70 L321.38,316.23 L321.67,316.76 L321.95,317.29 L322.24,317.83 L322.52,318.37 L322.81,318.90 L323.09,319.44 L323.37,319.98 L323.65,320.52 L323.93,321.07 L324.20,321.61 L324.48,322.15 L324.76,322.70 L325.03,323.25 L325.30,323.79 L325.58,324.34 L325.85,324.89 L326.12,325.44 L326.39,325.99 L326.66,326.55 L326.93,327.10 L327.20,327.66 L327.47,328.21 L327.74,328.77 L328.00,329.33 L328.27,329.89 L328.53,330.45 L328.80,331.01 L329.06,331.57 L329.33,332.14 L329.59,332.70 L329.85,333.27 L330.12,333.83 L330.38,334.40 L330.64,334.97 L330.65,335.00" stroke="#68b53c" stroke-width="1.3" fill="none" stroke-dasharray="2.5 0.6 0.9 0.6"/>
<path d="M34.90,335.00 L36.50,334.42 L37.88,333.92 L39.32,333.41 L40.79,332.88 L42.31,332.33 L43.87,331.77 L45.46,331.19 L47.08,330.61 L48.73,330.01 L50.41,329.41 L52.12,328.79 L53.84,328.17 L55.59,327.54 L57.36,326.91 L59.14,326.26 L60.93,325.62 L62.74,324.96 L64.56,324.31 L66.40,323.65 L68.24,322.98 L70.09,322.32 L71.94,321.65 L73.81,320.98 L75.68,320.30 L77.55,319.63 L79.43,318.95 L81.31,318.27 L83.20,317.59 L85.09,316.91 L86.98,316.23 L88.88,315.54 L90.78,314.86 L92.68,314.18 L94.58,313.49 L96.48,312.80 L98.38,312.12 L100.29,311.43 L102.20,310.74 L104.10,310.06 L106.01,309.37 L107.92,308.68 L109.83,307.99 L111.74,307.30 L113.65,306.61 L115.56,305.93 L117.47,305.24 L119.39,304.55 L121.30,303.86 L123.21,303.17 L125.12,302.48 L127.04,301.79 L128.95,301.10 L130.86,300.41 L132.78,299.72 L134.69,299.03 L136.60,298.34 L138.52,297.65 L140.43,296.96 L142.34,296.27 L144.26,295.58 L146.17,294.89 L148.09,294.20 L150.00,293.51 L151.91,292.82 L153.83,292.13 L155.74,291.44 L157.66,290.75 L159.57,290.06 L161.49,289.37 L163.40,288.68 L165.32,288.00 L167.23,287.31 L169.14,286.62 L171.06,285.93 L172.97,285.24 L174.89,284.55 L176.80,283.86 L178.72,283.17 L180.63,282.48 L182.55,281.79 L184.46,281.10 L186.38,280.41 L188.29,279.72 L190.21,279.04 L192.12,278.35 L194.04,277.66 L195.95,276.97 L197.87,276.29 L199.78,275.60 L201.70,274.92 L203.61,274.23 L205.53,273.55 L207.45,272.86 L209.36,272.18 L211.28,271.50 L213.20,270.82 L215.12,270.14 L217.03,269.46 L218.95,268.79 L220.87,268.11 L222.79,267.44 L224.71,266.77 L226.63,266.11 L228.55,265.45 L230.48,264.79 L232.40,264.14 L234.32,263.49 L236.25,262.85 L238.18,262.22 L240.11,261.60 L242.04,260.98 L243.98,260.38 L245.91,259.79 L247.85,259.21 L249.80,258.65 L251.75,258.10 L253.70,257.58 L255.65,257.08 L257.62,256.61 L259.59,256.18 L261.56,255.77 L263.55,255.41 L265.54,255.10 L267.55,254.84 L269.56,254.65 L270.17,254.60 L270.94,254.55 L271.68,254.52 L272.39,254.49 L273.07,254.48 L273.72,254.48 L274.35,254.48 L274.96,254.50 L275.70,254.53 L276.40,254.57 L277.08,254.62 L277.74,254.68 L278.37,254.75 L278.98,254.82 L279.69,254.93 L280.37,255.04 L281.02,255.16 L281.66,255.29 L282.27,255.44 L282.87,255.58 L283.54,255.77 L284.19,255.96 L284.82,256.16 L285.43,256.36 L286.03,256.58 L286.60,256.80 L287.16,257.03 L287.78,257.30 L288.39,257.58 L288.97,257.87 L289.55,258.16 L290.10,258.46 L290.64,258.76 L291.17,259.07 L291.69,259.39 L292.26,259.75 L292.81,260.12 L293.35,260.49 L293.88,260.87 L294.40,261.26 L294.90,261.65 L295.40,262.05 L295.88,262.45 L296.35,262.85 L296.82,263.26 L297.28,263.68 L297.73,264.09 L298.17,264.52 L298.60,264.94 L299.03,265.37 L299.45,265.80 L299.86,266.24 L300.31,266.73 L300.76,267.22 L301.20,267.72 L301.63,268.22 L302.05,268.73 L302.47,269.23 L302.88,269.74 L303.28,270.26 L303.68,270.78 L304.08,271.30 L304.47,271.82 L304.85,272.35 L305.23,272.88 L305.61,273.41 L305.98,273.94 L306.34,274.48 L306.70,275.02 L307.06,275.56 L307.42,276.11 L307.76,276.66 L308.11,277.21 L308.45,277.76 L308.79,278.31 L309.13,278.87 L309.46,279.43 L309.79,279.99 L310.12,280.56 L310.44,281.12 L310.76,281.69 L311.08,282.26 L311.39,282.83 L311.70,283.40 L312.01,283.98 L312.32,284.56 L312.62,285.13 L312.92,285.72 L313.22,286.30 L313.52,286.88 L313.82,287.47 L314.11,288.06 L314.40,288.65 L314.69,289.24 L314.97,289.83 L315.26,290.43 L315.54,291.02 L315.82,291.62 L316.10,292.22 L316.37,292.82 L316.65,293.42 L316.92,294.03 L317.19,294.63 L317.46,295.24 L317.73,295.85 L318.00,296.46 L318.26,297.07 L318.50,297.62 L318.74,298.17 L318.97,298.73 L319.20,299.28 L319.44,299.84 L319.67,300.39 L319.90,300.95 L320.13,301.51 L320.35,302.07 L320.58,302.63 L320.81,303.19 L321.03,303.76 L321.25,304.32 L321.48,304.89 L321.70,305.45 L321.92,306.02 L322.14,306.59 L322.36,307.16 L322.57,307.73 L322.79,308.30 L323.01,308.87 L323.22,309.45 L323.44,310.02 L323.65,310.59 L323.86,311.17 L324.07,311.75 L324.28,312.33 L324.49,312.90 L324.70,313.48 L324.91,314.07 L325.12,314.65 L325.33,315.23 L325.53,315.81 L325.74,316.40 L325.94,316.98 L326.15,317.57 L326.35,318.16 L326.55,318.74 L326.75,319.33 L326.95,319.92 L327.15,320.51 L327.35,321.10 L327.55,321.70 L327.75,322.29 L327.95,322.88 L328.15,323.48 L328.34,324.07 L328.54,324.67 L328.73,325.27 L328.93,325.87 L329.12,326.46 L329.32,327.06 L329.51,327.66 L329.70,328.27 L329.89,328.87 L330.09,329.47 L330.28,330.07 L330.47,330.68 L330.66,331.28 L330.84,331.89 L331.03,332.50 L331.22,333.10 L331.41,333.71 L331.60,334.32 L331.78,334.93 L331.80,335.00" stroke="#2e32a8" stroke-width="1.3" fill="none" stroke-dasharray="2.5 0.6 0.9 0.6"/>
<path d="M23.8,516.8 L349.6,516.8 M23.8,372.3 L349.6,372.3" stroke="#b2b2b2" stroke-width="0.55" fill="none"/>
<path d="M23.8,372.3 L23.8,516.8" stroke="#8e8e8e" stroke-width="0.55" fill="none"/>
<path d="M349.6,372.3 L349.6,516.8" stroke="#a3aedb" stroke-width="0.6" fill="none"/>
<path d="M23.80,516.8 L23.80,514.5999999999999 M23.80,372.3 L23.80,374.5 M60.00,516.8 L60.00,514.5999999999999 M60.00,372.3 L60.00,374.5 M96.20,516.8 L96.20,514.5999999999999 M96.20,372.3 L96.20,374.5 M132.40,516.8 L132.40,514.5999999999999 M132.40,372.3 L132.40,374.5 M168.60,516.8 L168.60,514.5999999999999 M168.60,372.3 L168.60,374.5 M204.80,516.8 L204.80,514.5999999999999 M204.80,372.3 L204.80,374.5 M241.00,516.8 L241.00,514.5999999999999 M241.00,372.3 L241.00,374.5 M277.20,516.8 L277.20,514.5999999999999 M277.20,372.3 L277.20,374.5 M313.40,516.8 L313.40,514.5999999999999 M313.40,372.3 L313.40,374.5 M349.60,516.8 L349.60,514.5999999999999 M349.60,372.3 L349.60,374.5 M23.8,516.80 L26.0,516.80 M23.8,502.35 L26.0,502.35 M23.8,487.90 L26.0,487.90 M23.8,473.45 L26.0,473.45 M23.8,459.00 L26.0,459.00 M23.8,444.55 L26.0,444.55 M23.8,430.10 L26.0,430.10 M23.8,415.65 L26.0,415.65 M23.8,401.20 L26.0,401.20 M23.8,386.75 L26.0,386.75 M23.8,372.30 L26.0,372.30" stroke="#9a9a9a" stroke-width="0.5" fill="none"/>
<path d="M349.6,516.80 L347.40000000000003,516.80 M349.6,492.72 L347.40000000000003,492.72 M349.6,468.63 L347.40000000000003,468.63 M349.6,444.55 L347.40000000000003,444.55 M349.6,420.47 L347.40000000000003,420.47 M349.6,396.38 L347.40000000000003,396.38 M349.6,372.30 L347.40000000000003,372.30" stroke="#a9b3dc" stroke-width="0.5" fill="none"/>
<g font-size="4.2" fill="#262626" stroke="#262626" text-anchor="middle" style="stroke-width:0.14px">
<text x="23.80" y="523.20">0</text>
<text x="60.00" y="523.20">10</text>
<text x="96.20" y="523.20">20</text>
<text x="132.40" y="523.20">30</text>
<text x="168.60" y="523.20">40</text>
<text x="204.80" y="523.20">50</text>
<text x="241.00" y="523.20">60</text>
<text x="277.20" y="523.20">70</text>
<text x="313.40" y="523.20">80</text>
<text x="349.60" y="523.20">90</text>
</g>
<g font-size="4.2" fill="#262626" stroke="#262626" text-anchor="end" style="stroke-width:0.14px">
<text x="21.60" y="518.81">0</text>
<text x="21.60" y="504.36">2</text>
<text x="21.60" y="489.91">4</text>
<text x="21.60" y="475.46">6</text>
<text x="21.60" y="461.01">8</text>
<text x="21.60" y="446.56">10</text>
<text x="21.60" y="432.11">12</text>
<text x="21.60" y="417.66">14</text>
<text x="21.60" y="403.21">16</text>
<text x="21.60" y="388.76">18</text>
<text x="21.60" y="374.31">20</text>
</g>
<g font-size="4.2" fill="#5a86c6" stroke="#5a86c6" text-anchor="start" style="stroke-width:0.1px">
<text x="352.20" y="518.81">0</text>
<text x="352.20" y="494.73">200</text>
<text x="352.20" y="470.65">400</text>
<text x="352.20" y="446.56">600</text>
<text x="352.20" y="422.48">800</text>
<text x="352.20" y="398.40">1000</text>
<text x="352.20" y="374.31">1200</text>
</g>
<path d="M23.80,396.87 L24.76,396.87 L26.41,396.87 L28.10,396.87 L29.81,396.87 L31.55,396.87 L33.32,396.87 L35.10,396.87 L36.90,396.87 L38.72,396.87 L40.56,396.87 L42.41,396.87 L44.27,396.87 L46.14,396.87 L48.02,396.87 L49.91,396.87 L51.80,396.87 L53.71,396.87 L55.62,396.87 L57.53,396.87 L59.45,396.87 L61.38,396.87 L63.30,396.87 L65.23,396.87 L67.17,396.87 L69.10,396.87 L71.04,396.87 L72.98,396.87 L74.92,396.87 L76.87,396.87 L78.81,396.87 L80.76,396.87 L82.71,396.87 L84.66,396.87 L86.60,396.87 L88.55,396.87 L90.50,396.87 L92.46,396.87 L94.41,396.87 L96.36,396.87 L98.31,396.87 L100.26,396.87 L102.22,396.87 L104.17,396.87 L106.12,396.87 L108.08,396.87 L110.03,396.87 L111.99,396.87 L113.94,396.87 L115.89,396.87 L117.85,396.87 L119.80,396.87 L121.76,396.87 L123.71,396.87 L125.67,396.87 L127.62,396.87 L129.58,396.87 L131.53,396.87 L133.49,396.87 L135.44,396.87 L137.40,396.87 L139.35,396.87 L141.31,396.87 L143.26,396.87 L145.22,396.87 L147.17,396.87 L149.13,396.87 L151.08,396.87 L153.04,396.87 L154.99,396.87 L156.95,396.87 L158.90,396.87 L160.86,396.87 L162.81,396.87 L164.77,396.87 L166.73,396.87 L168.68,396.87 L170.64,396.87 L172.59,396.87 L174.55,396.87 L176.50,396.88 L178.46,396.88 L180.41,396.88 L182.37,396.88 L184.32,396.88 L186.28,396.89 L188.24,396.89 L190.19,396.89 L192.15,396.89 L194.10,396.90 L196.06,396.90 L198.02,396.91 L199.97,396.91 L201.93,396.92 L203.89,396.93 L205.84,396.94 L207.80,396.95 L209.76,396.96 L211.72,396.97 L213.68,396.98 L215.64,397.00 L217.59,397.02 L219.55,397.04 L221.52,397.06 L223.48,397.09 L225.44,397.12 L227.40,397.15 L229.37,397.19 L231.33,397.24 L233.30,397.29 L235.27,397.34 L237.24,397.41 L239.21,397.48 L241.18,397.56 L243.16,397.66 L245.14,397.76 L247.12,397.89 L249.11,398.02 L251.10,398.18 L253.09,398.36 L255.09,398.56 L257.10,398.79 L259.11,399.04 L261.14,399.34 L263.17,399.67 L265.21,400.05 L267.26,400.48 L269.33,400.97 L271.41,401.52 L273.51,402.15 L275.62,402.86 L276.25,403.09 L276.86,403.32 L277.45,403.55 L278.02,403.77 L278.75,404.08 L279.46,404.38 L280.14,404.69 L280.80,404.99 L281.44,405.29 L282.05,405.60 L282.65,405.90 L283.23,406.21 L283.80,406.51 L284.35,406.81 L284.88,407.12 L285.40,407.42 L286.03,407.80 L286.65,408.18 L287.24,408.56 L287.83,408.94 L288.39,409.32 L288.94,409.70 L289.48,410.08 L290.00,410.46 L290.52,410.84 L291.02,411.22 L291.51,411.60 L291.99,411.98 L292.46,412.36 L293.01,412.82 L293.55,413.28 L294.07,413.73 L294.59,414.19 L295.10,414.64 L295.59,415.10 L296.08,415.56 L296.55,416.01 L297.02,416.47 L297.48,416.92 L297.93,417.38 L298.37,417.84 L298.81,418.29 L299.24,418.75 L299.66,419.20 L300.08,419.66 L300.49,420.12 L300.89,420.57 L301.29,421.03 L301.68,421.48 L302.13,422.02 L302.58,422.55 L303.01,423.08 L303.45,423.61 L303.87,424.14 L304.29,424.68 L304.70,425.21 L305.11,425.74 L305.51,426.27 L305.91,426.80 L306.31,427.34 L306.69,427.87 L307.08,428.40 L307.46,428.93 L307.83,429.47 L308.20,430.00 L308.57,430.53 L308.93,431.06 L309.29,431.59 L309.65,432.13 L310.00,432.66 L310.35,433.19 L310.70,433.72 L311.04,434.25 L311.38,434.79 L311.71,435.32 L312.05,435.85 L312.38,436.38 L312.70,436.91 L313.03,437.45 L313.35,437.98 L313.67,438.51 L313.99,439.04 L314.30,439.57 L314.61,440.11 L314.92,440.64 L315.23,441.17 L315.54,441.70 L315.84,442.23 L316.14,442.77 L316.44,443.30 L316.74,443.83 L317.03,444.36 L317.32,444.90 L317.62,445.43 L317.90,445.96 L318.19,446.49 L318.48,447.02 L318.76,447.56 L319.04,448.09 L319.32,448.62 L319.60,449.15 L319.92,449.76 L320.23,450.37 L320.55,450.98 L320.86,451.58 L321.17,452.19 L321.47,452.80 L321.78,453.41 L322.08,454.02 L322.38,454.62 L322.68,455.23 L322.98,455.84 L323.28,456.45 L323.57,457.06 L323.87,457.66 L324.16,458.27 L324.45,458.88 L324.74,459.49 L325.03,460.10 L325.31,460.70 L325.60,461.31 L325.88,461.92 L326.16,462.53 L326.44,463.14 L326.72,463.75 L327.00,464.35 L327.27,464.96 L327.55,465.57 L327.82,466.18 L328.10,466.79 L328.37,467.39 L328.64,468.00 L328.91,468.61 L329.18,469.22 L329.45,469.83 L329.71,470.43 L329.98,471.04 L330.24,471.65 L330.50,472.26 L330.77,472.87 L331.03,473.47 L331.29,474.08 L331.55,474.69 L331.81,475.30 L332.06,475.91 L332.32,476.51 L332.58,477.12 L332.83,477.73 L333.08,478.34 L333.34,478.95 L333.59,479.56 L333.84,480.16 L334.09,480.77 L334.34,481.38 L334.59,481.99 L334.84,482.60 L335.08,483.20 L335.33,483.81 L335.58,484.42 L335.82,485.03 L336.07,485.64 L336.31,486.24 L336.55,486.85 L336.79,487.46 L337.04,488.07 L337.28,488.68 L337.52,489.28 L337.76,489.89 L337.99,490.50 L338.23,491.11 L338.47,491.72 L338.71,492.32 L338.94,492.93 L339.18,493.54 L339.41,494.15 L339.65,494.76 L339.88,495.37 L340.11,495.97 L340.35,496.58 L340.58,497.19 L340.81,497.80 L341.04,498.41 L341.27,499.01 L341.50,499.62 L341.73,500.23 L341.96,500.84 L342.19,501.45 L342.42,502.05 L342.64,502.66 L342.87,503.27 L343.10,503.88 L343.32,504.49 L343.55,505.09 L343.77,505.70 L343.99,506.31 L344.22,506.92 L344.44,507.53 L344.66,508.13 L344.89,508.74 L345.11,509.35 L345.33,509.96 L345.55,510.57 L345.77,511.18 L345.99,511.78 L346.21,512.39 L346.43,513.00 L346.65,513.61 L346.87,514.22 L347.08,514.82 L347.30,515.43 L347.52,516.04 L347.74,516.65 L347.79,516.80" stroke="#8c5a3e" stroke-width="1.25" fill="none"/>
<path d="M147.48,442.67 L148.11,442.93 L148.71,443.20 L149.27,443.46 L149.91,443.78 L150.52,444.10 L151.09,444.42 L151.63,444.73 L152.15,445.05 L152.73,445.42 L153.28,445.80 L153.80,446.17 L154.30,446.54 L154.78,446.91 L155.31,447.33 L155.82,447.76 L156.31,448.18 L156.77,448.61 L157.23,449.03 L157.66,449.46 L158.14,449.93 L158.60,450.41 L159.04,450.89 L159.47,451.37 L159.89,451.84 L160.29,452.32 L160.69,452.80 L161.07,453.28 L161.44,453.75 L161.81,454.23 L162.21,454.76 L162.59,455.29 L162.97,455.82 L163.34,456.35 L163.70,456.89 L164.05,457.42 L164.40,457.95 L164.74,458.48 L165.07,459.01 L165.40,459.54 L165.72,460.07 L166.03,460.60 L166.34,461.13 L166.65,461.66 L166.95,462.19 L167.24,462.72 L167.54,463.25 L167.82,463.78 L168.11,464.31 L168.41,464.90 L168.72,465.48 L169.01,466.06 L169.31,466.65 L169.60,467.23 L169.89,467.82 L170.17,468.40 L170.45,468.98 L170.73,469.57 L171.00,470.15 L171.27,470.73 L171.54,471.32 L171.80,471.90 L172.07,472.48 L172.32,473.07 L172.58,473.65 L172.84,474.24 L173.09,474.82 L173.34,475.40 L173.58,475.99 L173.83,476.57 L174.07,477.15 L174.31,477.74 L174.55,478.32 L174.79,478.90 L175.02,479.49 L175.26,480.07 L175.86,480.60 L177.32,480.60 L178.79,480.60 L180.25,480.60 L181.71,480.60 L183.17,480.60 L184.63,480.60 L186.09,480.60 L187.56,480.60 L189.02,480.60 L190.48,480.60 L191.94,480.60 L193.40,480.60 L194.87,480.60 L196.33,480.60 L197.79,480.60 L199.25,480.60 L200.71,480.60 L202.17,480.60 L203.64,480.60 L205.10,480.60 L206.56,480.60 L208.02,480.60 L209.48,480.60 L210.95,480.61 L212.41,480.61 L213.87,480.61 L215.33,480.61 L216.79,480.61 L218.26,480.61 L219.72,480.61 L221.18,480.61 L222.64,480.61 L224.10,480.61 L225.57,480.61 L227.03,480.61 L228.49,480.61 L229.95,480.61 L231.41,480.62 L232.88,480.62 L234.34,480.62 L235.80,480.62 L237.26,480.62 L238.73,480.63 L240.19,480.63 L241.65,480.63 L243.11,480.64 L244.58,480.64 L246.04,480.65 L247.50,480.65 L248.97,480.66 L250.43,480.67 L251.90,480.68 L253.36,480.69 L254.83,480.70 L256.29,480.71 L257.76,480.72 L259.22,480.74 L260.69,480.76 L262.16,480.78 L263.62,480.80 L265.09,480.82 L266.56,480.85 L268.03,480.89 L269.51,480.92 L270.98,480.97 L272.46,481.01 L273.93,481.07 L275.41,481.13 L276.89,481.20 L278.38,481.28 L279.86,481.37 L281.35,481.47 L282.85,481.58 L284.34,481.71 L285.85,481.85 L287.35,482.02 L288.87,482.20 L290.39,482.41 L291.00,482.50 L291.72,482.62 L292.41,482.73 L293.06,482.85 L293.68,482.96 L294.28,483.08 L294.96,483.22 L295.60,483.35 L296.22,483.49 L296.81,483.63 L297.47,483.79 L298.09,483.95 L298.69,484.11 L299.35,484.29 L299.97,484.48 L300.57,484.66 L301.15,484.84 L301.77,485.05 L302.36,485.26 L302.93,485.46 L303.54,485.69 L304.13,485.92 L304.69,486.15 L305.29,486.40 L305.86,486.66 L306.42,486.91 L307.00,487.18 L307.56,487.46 L308.11,487.73 L308.67,488.03 L309.22,488.33 L309.75,488.63 L310.31,488.95 L310.84,489.27 L311.37,489.59 L311.91,489.94 L312.43,490.28 L312.94,490.63 L313.44,490.97 L313.95,491.34 L314.45,491.70 L314.94,492.07 L315.41,492.44 L315.91,492.83 L316.39,493.22 L316.86,493.61 L317.31,494.00 L317.79,494.41 L318.25,494.82 L318.71,495.24 L319.15,495.65 L319.59,496.06 L320.04,496.50 L320.48,496.93 L320.91,497.37 L321.34,497.81 L321.76,498.24 L322.19,498.70 L322.61,499.16 L323.03,499.62 L323.44,500.08 L323.84,500.54 L324.24,500.99 L324.63,501.45 L325.04,501.93 L325.44,502.42 L325.83,502.90 L326.22,503.38 L326.60,503.86 L326.98,504.34 L327.35,504.83 L327.72,505.31 L328.08,505.79 L328.44,506.27 L328.81,506.78 L329.18,507.28 L329.54,507.78 L329.90,508.29 L330.25,508.79 L330.60,509.30 L330.95,509.80 L331.29,510.31 L331.63,510.81 L331.97,511.32 L332.31,511.82 L332.64,512.33 L332.96,512.83 L333.29,513.34 L333.62,513.86 L333.96,514.39 L334.29,514.92 L334.62,515.45 L334.94,515.97 L335.26,516.50 L335.45,516.80" stroke="#68b53c" stroke-width="1.25" fill="none"/>
<path d="M23.80,438.77 L25.14,438.77 L25.93,438.77 L26.73,438.77 L27.53,438.77 L28.35,438.77 L29.18,438.77 L30.01,438.77 L30.85,438.77 L31.70,438.77 L32.56,438.77 L33.41,438.77 L34.28,438.77 L35.15,438.77 L36.02,438.77 L36.89,438.77 L37.77,438.77 L38.65,438.77 L39.53,438.77 L40.41,438.77 L41.30,438.77 L42.19,438.77 L43.08,438.77 L43.97,438.77 L44.86,438.77 L45.75,438.77 L46.64,438.77 L47.54,438.77 L48.43,438.77 L49.33,438.77 L50.22,438.77 L51.12,438.77 L52.02,438.77 L52.91,438.77 L53.81,438.77 L54.71,438.77 L55.61,438.77 L56.50,438.77 L57.40,438.77 L58.30,438.77 L59.20,438.77 L60.10,438.77 L61.00,438.77 L61.90,438.77 L62.80,438.77 L63.69,438.77 L64.59,438.77 L65.49,438.77 L66.39,438.77 L67.29,438.77 L68.19,438.77 L69.09,438.77 L69.99,438.77 L70.89,438.77 L71.79,438.77 L72.69,438.77 L73.59,438.77 L74.49,438.77 L75.39,438.77 L76.29,438.77 L77.19,438.77 L78.09,438.77 L78.99,438.77 L79.89,438.77 L80.79,438.77 L81.69,438.77 L82.59,438.77 L83.49,438.77 L84.39,438.77 L85.29,438.77 L86.19,438.77 L87.09,438.77 L87.99,438.77 L88.89,438.77 L89.79,438.77 L90.69,438.77 L91.59,438.77 L92.49,438.77 L93.39,438.77 L94.28,438.77 L95.18,438.77 L96.08,438.77 L96.98,438.77 L97.88,438.77 L98.78,438.78 L99.68,438.78 L100.58,438.78 L101.48,438.78 L102.38,438.78 L103.28,438.78 L104.18,438.78 L105.08,438.78 L105.98,438.78 L106.88,438.79 L107.79,438.79 L108.69,438.79 L109.59,438.79 L110.49,438.80 L111.39,438.80 L112.29,438.81 L113.19,438.81 L114.09,438.81 L114.99,438.82 L115.89,438.83 L116.79,438.84 L117.69,438.84 L118.59,438.85 L119.50,438.86 L120.40,438.88 L121.30,438.89 L122.20,438.91 L123.11,438.93 L124.01,438.95 L124.91,438.97 L125.82,439.00 L126.72,439.02 L127.63,439.06 L128.53,439.10 L129.44,439.14 L130.35,439.19 L131.26,439.24 L132.17,439.31 L133.08,439.38 L133.99,439.46 L134.91,439.55 L135.83,439.65 L136.75,439.76 L137.67,439.90 L138.59,440.04 L139.52,440.21 L140.45,440.40 L141.39,440.62 L142.33,440.86 L143.07,441.07 L143.75,441.29 L144.37,441.50 L144.95,441.71 L145.62,441.98 L146.25,442.24 L146.83,442.51 L147.37,442.77 L147.98,443.09 L148.55,443.41 L149.09,443.73 L149.67,444.10 L150.23,444.47 L150.75,444.84 L151.24,445.21 L151.78,445.64 L152.29,446.06 L152.77,446.49 L153.23,446.91 L153.67,447.33 L154.15,447.81 L154.60,448.29 L155.04,448.77 L155.46,449.24 L155.86,449.72 L156.26,450.20 L156.63,450.68 L157.00,451.16 L157.40,451.69 L157.78,452.22 L158.15,452.75 L158.51,453.28 L158.86,453.81 L159.20,454.34 L159.54,454.87 L159.86,455.40 L160.18,455.93 L160.49,456.46 L160.80,456.99 L161.10,457.52 L161.39,458.05 L161.68,458.58 L161.96,459.11 L162.26,459.70 L162.56,460.28 L162.86,460.86 L163.14,461.45 L163.43,462.03 L163.71,462.62 L163.98,463.20 L164.25,463.78 L164.52,464.37 L164.78,464.95 L165.04,465.53 L165.30,466.12 L165.55,466.70 L165.80,467.28 L166.05,467.87 L166.29,468.45 L166.53,469.04 L166.77,469.62 L167.00,470.20 L167.24,470.79 L167.47,471.37 L167.69,471.95 L167.92,472.54 L168.14,473.12 L168.37,473.71 L168.58,474.29 L168.80,474.87 L169.02,475.46 L169.23,476.04 L169.44,476.62 L169.65,477.21 L169.86,477.79 L170.07,478.37 L170.28,478.96 L170.48,479.54 L170.68,480.13 L171.98,480.60 L173.20,480.60 L174.42,480.60 L175.65,480.60 L176.87,480.60 L178.09,480.60 L179.31,480.60 L180.53,480.60 L181.75,480.60 L182.98,480.60 L184.20,480.60 L185.42,480.60 L186.64,480.60 L187.86,480.60 L189.08,480.60 L190.31,480.60 L191.53,480.60 L192.75,480.60 L193.97,480.60 L195.19,480.60 L196.41,480.60 L197.64,480.60 L198.86,480.60 L200.08,480.60 L201.30,480.60 L202.52,480.60 L203.75,480.60 L204.97,480.60 L206.19,480.60 L207.41,480.60 L208.63,480.60 L209.85,480.60 L211.08,480.60 L212.30,480.60 L213.52,480.60 L214.74,480.60 L215.96,480.60 L217.18,480.60 L218.41,480.60 L219.63,480.60 L220.85,480.60 L222.07,480.60 L223.29,480.60 L224.52,480.60 L225.74,480.60 L226.96,480.60 L228.18,480.60 L229.40,480.61 L230.62,480.61 L231.85,480.61 L233.07,480.61 L234.29,480.61 L235.51,480.61 L236.73,480.61 L237.96,480.61 L239.18,480.61 L240.40,480.61 L241.62,480.61 L242.84,480.61 L244.07,480.61 L245.29,480.61 L246.51,480.62 L247.73,480.62 L248.96,480.62 L250.18,480.62 L251.40,480.62 L252.62,480.63 L253.85,480.63 L255.07,480.63 L256.29,480.64 L257.52,480.64 L258.74,480.65 L259.96,480.65 L261.19,480.66 L262.41,480.67 L263.64,480.68 L264.86,480.69 L266.09,480.70 L267.31,480.71 L268.54,480.72 L269.76,480.74 L270.99,480.76 L272.22,480.78 L273.45,480.80 L274.68,480.82 L275.91,480.85 L277.14,480.89 L278.38,480.92 L279.61,480.97 L280.85,481.01 L282.09,481.07 L283.33,481.13 L284.58,481.20 L285.83,481.28 L287.08,481.37 L288.33,481.47 L289.59,481.58 L290.86,481.71 L292.13,481.85 L293.40,482.02 L294.69,482.20 L295.98,482.41 L296.63,482.53 L297.24,482.64 L297.93,482.78 L298.58,482.92 L299.20,483.05 L299.78,483.19 L300.43,483.35 L301.05,483.51 L301.63,483.67 L302.27,483.86 L302.87,484.04 L303.45,484.22 L304.06,484.43 L304.65,484.64 L305.28,484.87 L305.87,485.10 L306.44,485.33 L307.04,485.58 L307.61,485.83 L308.16,486.08 L308.74,486.36 L309.29,486.63 L309.83,486.91 L310.38,487.21 L310.92,487.51 L311.48,487.83 L312.01,488.15 L312.53,488.47 L313.07,488.81 L313.59,489.16 L314.10,489.50 L314.62,489.87 L315.13,490.24 L315.62,490.60 L316.10,490.97 L316.59,491.36 L317.08,491.75 L317.55,492.14 L318.00,492.53 L318.48,492.94 L318.94,493.36 L319.39,493.77 L319.84,494.18 L320.30,494.62 L320.74,495.05 L321.18,495.49 L321.61,495.92 L322.04,496.36 L322.45,496.80 L322.88,497.25 L323.30,497.71 L323.72,498.17 L324.13,498.63 L324.53,499.09 L324.92,499.55 L325.31,500.01 L325.71,500.49 L326.11,500.97 L326.50,501.45 L326.89,501.93 L327.27,502.42 L327.65,502.90 L328.02,503.38 L328.39,503.86 L328.75,504.34 L329.11,504.83 L329.48,505.33 L329.85,505.83 L330.21,506.34 L330.58,506.84 L330.93,507.35 L331.29,507.85 L331.63,508.36 L331.98,508.86 L332.32,509.37 L332.66,509.87 L333.00,510.38 L333.34,510.88 L333.67,511.39 L334.00,511.89 L334.32,512.40 L334.66,512.92 L335.00,513.45 L335.33,513.98 L335.66,514.51 L335.99,515.03 L336.32,515.56 L336.64,516.09 L336.96,516.62 L337.07,516.80" stroke="#2e32a8" stroke-width="1.25" fill="none"/>
<path d="M24.76,516.27 L26.41,515.36 L28.10,514.43 L29.81,513.48 L31.55,512.52 L33.32,511.54 L35.10,510.56 L36.90,509.56 L38.72,508.56 L40.56,507.55 L42.41,506.53 L44.27,505.50 L46.14,504.47 L48.02,503.43 L49.91,502.38 L51.80,501.34 L53.71,500.29 L55.62,499.23 L57.53,498.17 L59.45,497.11 L61.38,496.05 L63.30,494.99 L65.23,493.92 L67.17,492.85 L69.10,491.78 L71.04,490.71 L72.98,489.64 L74.92,488.57 L76.87,487.50 L78.81,486.42 L80.76,485.35 L82.71,484.27 L84.66,483.20 L86.60,482.12 L88.55,481.04 L90.50,479.97 L92.46,478.89 L94.41,477.81 L96.36,476.73 L98.31,475.66 L100.26,474.58 L102.22,473.50 L104.17,472.42 L106.12,471.34 L108.08,470.26 L110.03,469.18 L111.99,468.11 L113.94,467.03 L115.89,465.95 L117.85,464.87 L119.80,463.79 L121.76,462.71 L123.71,461.63 L125.67,460.55 L127.62,459.47 L129.58,458.39 L131.53,457.31 L133.49,456.23 L135.44,455.15 L137.40,454.07 L139.35,452.99 L141.31,451.91 L143.26,450.84 L145.22,449.76 L147.17,448.68 L149.13,447.60 L151.08,446.52 L153.04,445.44 L154.99,444.36 L156.95,443.28 L158.90,442.20 L160.86,441.12 L162.81,440.04 L164.77,438.96 L166.73,437.88 L168.68,436.80 L170.64,435.72 L172.59,434.65 L174.55,433.57 L176.50,432.49 L178.46,431.41 L180.41,430.33 L182.37,429.25 L184.32,428.17 L186.28,427.10 L188.24,426.02 L190.19,424.94 L192.15,423.86 L194.10,422.79 L196.06,421.71 L198.02,420.63 L199.97,419.56 L201.93,418.48 L203.89,417.41 L205.84,416.34 L207.80,415.27 L209.76,414.19 L211.72,413.12 L213.68,412.06 L215.64,410.99 L217.59,409.93 L219.55,408.86 L221.52,407.80 L223.48,406.75 L225.44,405.69 L227.40,404.64 L229.37,403.60 L231.33,402.56 L233.30,401.52 L235.27,400.50 L237.24,399.48 L239.21,398.47 L241.18,397.46 L243.16,396.47 L245.14,395.50 L247.12,394.53 L249.11,393.59 L251.10,392.66 L253.09,391.76 L255.09,390.89 L257.10,390.04 L259.11,389.22 L261.14,388.45 L263.17,387.72 L265.21,387.04 L267.26,386.42 L269.33,385.86 L271.41,385.38 L273.51,384.99 L275.62,384.70 L276.25,384.63 L276.86,384.58 L277.64,384.53 L278.39,384.50 L279.11,384.48 L279.80,384.48 L280.47,384.49 L281.12,384.52 L281.75,384.56 L282.36,384.61 L283.09,384.68 L283.80,384.78 L284.48,384.89 L285.14,385.01 L285.78,385.15 L286.40,385.29 L287.01,385.45 L287.60,385.62 L288.28,385.83 L288.94,386.06 L289.58,386.30 L290.21,386.56 L290.82,386.82 L291.41,387.09 L291.99,387.38 L292.55,387.67 L293.10,387.97 L293.64,388.28 L294.16,388.60 L294.68,388.92 L295.18,389.26 L295.75,389.65 L296.32,390.06 L296.86,390.47 L297.40,390.89 L297.93,391.32 L298.45,391.76 L298.95,392.20 L299.45,392.65 L299.94,393.11 L300.42,393.57 L300.89,394.04 L301.35,394.51 L301.81,394.99 L302.26,395.48 L302.70,395.97 L303.14,396.46 L303.57,396.96 L303.99,397.47 L304.41,397.98 L304.82,398.49 L305.23,399.01 L305.63,399.53 L306.03,400.06 L306.42,400.59 L306.80,401.12 L307.19,401.66 L307.56,402.20 L307.94,402.75 L308.31,403.30 L308.67,403.85 L309.04,404.40 L309.39,404.96 L309.75,405.52 L310.10,406.09 L310.45,406.66 L310.79,407.23 L311.13,407.80 L311.47,408.38 L311.81,408.96 L312.14,409.54 L312.47,410.12 L312.80,410.71 L313.12,411.30 L313.44,411.89 L313.76,412.49 L314.08,413.08 L314.39,413.68 L314.70,414.29 L315.01,414.89 L315.32,415.50 L315.62,416.11 L315.93,416.72 L316.23,417.33 L316.52,417.95 L316.82,418.56 L317.12,419.18 L317.41,419.81 L317.70,420.43 L317.99,421.06 L318.27,421.68 L318.56,422.31 L318.84,422.95 L319.12,423.58 L319.40,424.21 L319.68,424.85 L319.96,425.49 L320.23,426.13 L320.51,426.78 L320.78,427.42 L321.01,427.98 L321.24,428.53 L321.47,429.09 L321.70,429.65 L321.93,430.20 L322.16,430.77 L322.38,431.33 L322.61,431.89 L322.83,432.45 L323.06,433.02 L323.28,433.59 L323.50,434.15 L323.72,434.72 L323.94,435.29 L324.16,435.86 L324.38,436.44 L324.59,437.01 L324.81,437.59 L325.03,438.16 L325.24,438.74 L325.45,439.32 L325.67,439.90 L325.88,440.48 L326.09,441.06 L326.30,441.64 L326.51,442.22 L326.72,442.81 L326.93,443.39 L327.14,443.98 L327.34,444.57 L327.55,445.16 L327.76,445.74 L327.96,446.34 L328.17,446.93 L328.37,447.52 L328.57,448.11 L328.78,448.71 L328.98,449.30 L329.18,449.90 L329.38,450.50 L329.58,451.10 L329.78,451.70 L329.98,452.30 L330.18,452.90 L330.37,453.50 L330.57,454.10 L330.77,454.71 L330.96,455.31 L331.16,455.92 L331.35,456.53 L331.55,457.14 L331.74,457.75 L331.93,458.35 L332.13,458.97 L332.32,459.58 L332.51,460.19 L332.70,460.80 L332.89,461.42 L333.08,462.03 L333.27,462.65 L333.46,463.27 L333.65,463.88 L333.84,464.50 L334.03,465.12 L334.22,465.74 L334.40,466.37 L334.59,466.99 L334.78,467.61 L334.96,468.23 L335.15,468.86 L335.33,469.49 L335.52,470.11 L335.70,470.74 L335.88,471.37 L336.07,472.00 L336.25,472.63 L336.43,473.26 L336.61,473.89 L336.79,474.52 L336.98,475.15 L337.16,475.79 L337.34,476.42 L337.52,477.06 L337.70,477.69 L337.88,478.33 L338.05,478.97 L338.23,479.61 L338.41,480.25 L338.59,480.89 L338.77,481.53 L338.94,482.17 L339.12,482.81 L339.30,483.46 L339.47,484.10 L339.65,484.75 L339.82,485.39 L340.00,486.04 L340.17,486.69 L340.35,487.33 L340.52,487.98 L340.70,488.63 L340.87,489.28 L341.04,489.93 L341.21,490.59 L341.39,491.24 L341.56,491.89 L341.73,492.55 L341.90,493.20 L342.07,493.86 L342.24,494.51 L342.42,495.17 L342.59,495.83 L342.76,496.49 L342.93,497.14 L343.10,497.80 L343.26,498.47 L343.43,499.13 L343.60,499.79 L343.77,500.45 L343.94,501.12 L344.11,501.78 L344.27,502.44 L344.44,503.11 L344.61,503.78 L344.78,504.44 L344.94,505.11 L345.11,505.78 L345.27,506.45 L345.44,507.12 L345.61,507.79 L345.77,508.46 L345.94,509.13 L346.10,509.81 L346.27,510.48 L346.43,511.15 L346.59,511.83 L346.76,512.51 L346.92,513.18 L347.08,513.86 L347.25,514.54 L347.41,515.21 L347.57,515.89 L347.74,516.57 L347.79,516.80" stroke="#8c5a3e" stroke-width="1.3" fill="none" stroke-dasharray="2.5 0.6 0.9 0.6" stroke-dashoffset="1.095"/>
<path d="M148.94,474.45 L149.60,474.42 L150.22,474.39 L150.90,474.38 L151.54,474.38 L152.15,474.40 L152.81,474.44 L153.43,474.49 L154.09,474.56 L154.72,474.64 L155.31,474.74 L155.94,474.86 L156.54,475.00 L157.17,475.16 L157.77,475.33 L158.34,475.51 L158.94,475.72 L159.52,475.95 L160.11,476.20 L160.69,476.47 L161.24,476.74 L161.77,477.02 L162.32,477.34 L162.86,477.66 L163.37,477.99 L163.88,478.33 L164.40,478.70 L164.90,479.08 L165.40,479.47 L165.88,479.86 L166.34,480.27 L166.80,480.67 L167.24,481.09 L167.68,481.50 L168.11,481.93 L168.55,482.39 L168.99,482.85 L169.42,483.32 L169.84,483.79 L170.25,484.27 L170.65,484.76 L171.05,485.25 L171.44,485.74 L171.83,486.24 L172.21,486.74 L172.58,487.24 L172.95,487.75 L173.31,488.27 L173.67,488.78 L174.03,489.31 L174.38,489.83 L174.72,490.36 L175.07,490.89 L175.40,491.42 L177.32,491.21 L178.79,490.97 L180.25,490.73 L181.71,490.48 L183.17,490.24 L184.63,490.00 L186.09,489.75 L187.56,489.51 L189.02,489.27 L190.48,489.02 L191.94,488.78 L193.40,488.54 L194.87,488.29 L196.33,488.05 L197.79,487.80 L199.25,487.56 L200.71,487.32 L202.17,487.07 L203.64,486.83 L205.10,486.59 L206.56,486.34 L208.02,486.10 L209.48,485.86 L210.95,485.61 L212.41,485.37 L213.87,485.13 L215.33,484.88 L216.79,484.64 L218.26,484.40 L219.72,484.15 L221.18,483.91 L222.64,483.67 L224.10,483.43 L225.57,483.18 L227.03,482.94 L228.49,482.70 L229.95,482.45 L231.41,482.21 L232.88,481.97 L234.34,481.73 L235.80,481.49 L237.26,481.25 L238.73,481.01 L240.19,480.77 L241.65,480.53 L243.11,480.29 L244.58,480.05 L246.04,479.81 L247.50,479.57 L248.97,479.33 L250.43,479.10 L251.90,478.86 L253.36,478.63 L254.83,478.40 L256.29,478.17 L257.76,477.94 L259.22,477.71 L260.69,477.49 L262.16,477.27 L263.62,477.05 L265.09,476.83 L266.56,476.62 L268.03,476.42 L269.51,476.22 L270.98,476.02 L272.46,475.83 L273.93,475.65 L275.41,475.48 L276.89,475.32 L278.38,475.16 L279.86,475.03 L281.35,474.90 L282.85,474.79 L284.34,474.70 L285.85,474.64 L287.35,474.59 L288.87,474.58 L290.39,474.59 L291.00,474.61 L291.72,474.64 L292.41,474.67 L293.06,474.71 L293.68,474.76 L294.39,474.82 L295.07,474.88 L295.71,474.96 L296.32,475.04 L297.00,475.13 L297.65,475.24 L298.27,475.35 L298.86,475.46 L299.51,475.60 L300.13,475.74 L300.72,475.88 L301.36,476.05 L301.97,476.23 L302.56,476.41 L303.18,476.61 L303.78,476.82 L304.36,477.03 L304.97,477.27 L305.55,477.52 L306.12,477.77 L306.66,478.02 L307.24,478.30 L307.79,478.59 L308.33,478.88 L308.89,479.19 L309.43,479.51 L309.95,479.84 L310.46,480.17 L311.00,480.52 L311.51,480.88 L312.01,481.25 L312.50,481.61 L312.97,481.98 L313.47,482.38 L313.95,482.78 L314.42,483.19 L314.88,483.60 L315.32,484.01 L315.76,484.42 L316.22,484.87 L316.66,485.31 L317.10,485.76 L317.53,486.21 L317.94,486.67 L318.35,487.12 L318.76,487.58 L319.15,488.04 L319.54,488.50 L319.92,488.96 L320.32,489.46 L320.71,489.96 L321.09,490.46 L321.47,490.96 L321.84,491.46 L322.21,491.96 L322.57,492.47 L322.93,492.98 L323.28,493.49 L323.62,494.00 L323.96,494.51 L324.30,495.03 L324.63,495.54 L324.96,496.06 L325.29,496.58 L325.61,497.10 L325.92,497.62 L326.24,498.15 L326.55,498.67 L326.85,499.20 L327.15,499.72 L327.45,500.25 L327.75,500.78 L328.05,501.31 L328.34,501.84 L328.62,502.38 L328.91,502.91 L329.19,503.45 L329.47,503.98 L329.75,504.52 L330.03,505.06 L330.30,505.60 L330.57,506.14 L330.84,506.68 L331.11,507.23 L331.37,507.77 L331.63,508.31 L331.90,508.86 L332.15,509.41 L332.41,509.96 L332.67,510.50 L332.92,511.05 L333.17,511.60 L333.42,512.16 L333.67,512.71 L333.92,513.26 L334.16,513.82 L334.40,514.37 L334.65,514.93 L334.89,515.49 L335.12,516.04 L335.36,516.60 L335.45,516.80" stroke="#68b53c" stroke-width="1.3" fill="none" stroke-dasharray="2.5 0.6 0.9 0.6" stroke-dashoffset="132.257"/>
<path d="M23.80,516.80 L24.37,516.59 L25.14,516.32 L25.93,516.04 L26.73,515.75 L27.53,515.46 L28.35,515.16 L29.18,514.87 L30.01,514.57 L30.85,514.27 L31.70,513.96 L32.56,513.65 L33.41,513.35 L34.28,513.04 L35.15,512.72 L36.02,512.41 L36.89,512.10 L37.77,511.78 L38.65,511.47 L39.53,511.15 L40.41,510.83 L41.30,510.51 L42.19,510.19 L43.08,509.87 L43.97,509.55 L44.86,509.23 L45.75,508.91 L46.64,508.59 L47.54,508.27 L48.43,507.95 L49.33,507.63 L50.22,507.31 L51.12,506.99 L52.02,506.66 L52.91,506.34 L53.81,506.02 L54.71,505.70 L55.61,505.37 L56.50,505.05 L57.40,504.73 L58.30,504.41 L59.20,504.08 L60.10,503.76 L61.00,503.44 L61.90,503.11 L62.80,502.79 L63.69,502.47 L64.59,502.14 L65.49,501.82 L66.39,501.50 L67.29,501.18 L68.19,500.85 L69.09,500.53 L69.99,500.21 L70.89,499.88 L71.79,499.56 L72.69,499.24 L73.59,498.91 L74.49,498.59 L75.39,498.27 L76.29,497.94 L77.19,497.62 L78.09,497.30 L78.99,496.97 L79.89,496.65 L80.79,496.33 L81.69,496.00 L82.59,495.68 L83.49,495.36 L84.39,495.03 L85.29,494.71 L86.19,494.39 L87.09,494.06 L87.99,493.74 L88.89,493.42 L89.79,493.09 L90.69,492.77 L91.59,492.45 L92.49,492.13 L93.39,491.80 L94.28,491.48 L95.18,491.16 L96.08,490.83 L96.98,490.51 L97.88,490.19 L98.78,489.86 L99.68,489.54 L100.58,489.22 L101.48,488.89 L102.38,488.57 L103.28,488.25 L104.18,487.93 L105.08,487.60 L105.98,487.28 L106.88,486.96 L107.79,486.64 L108.69,486.31 L109.59,485.99 L110.49,485.67 L111.39,485.35 L112.29,485.02 L113.19,484.70 L114.09,484.38 L114.99,484.06 L115.89,483.74 L116.79,483.42 L117.69,483.10 L118.59,482.78 L119.50,482.46 L120.40,482.14 L121.30,481.83 L122.20,481.51 L123.11,481.20 L124.01,480.88 L124.91,480.57 L125.82,480.26 L126.72,479.95 L127.63,479.64 L128.53,479.33 L129.44,479.03 L130.35,478.73 L131.26,478.43 L132.17,478.14 L133.08,477.85 L133.99,477.56 L134.91,477.28 L135.83,477.01 L136.75,476.74 L137.67,476.48 L138.59,476.23 L139.52,476.00 L140.45,475.77 L141.39,475.56 L142.33,475.36 L143.07,475.22 L143.75,475.10 L144.37,475.00 L145.09,474.90 L145.75,474.82 L146.36,474.76 L147.05,474.70 L147.68,474.67 L148.36,474.65 L149.00,474.65 L149.67,474.67 L150.30,474.70 L150.96,474.76 L151.58,474.84 L152.22,474.94 L152.83,475.06 L153.45,475.21 L154.04,475.37 L154.65,475.56 L155.23,475.76 L155.82,476.00 L156.38,476.24 L156.96,476.52 L157.51,476.81 L158.04,477.11 L158.58,477.45 L159.10,477.79 L159.60,478.14 L160.09,478.51 L160.58,478.90 L161.07,479.30 L161.53,479.71 L161.99,480.13 L162.43,480.56 L162.86,480.99 L163.27,481.43 L163.68,481.87 L164.08,482.32 L164.50,482.80 L164.90,483.29 L165.30,483.78 L165.69,484.28 L166.07,484.78 L166.44,485.29 L166.81,485.80 L167.17,486.32 L167.53,486.84 L167.88,487.37 L168.22,487.90 L168.56,488.43 L168.90,488.97 L169.23,489.51 L169.56,490.05 L169.88,490.60 L170.20,491.15 L170.52,491.70 L170.81,492.23 L171.98,492.11 L173.20,491.90 L174.42,491.70 L175.65,491.49 L176.87,491.29 L178.09,491.09 L179.31,490.88 L180.53,490.68 L181.75,490.48 L182.98,490.27 L184.20,490.07 L185.42,489.87 L186.64,489.66 L187.86,489.46 L189.08,489.25 L190.31,489.05 L191.53,488.85 L192.75,488.64 L193.97,488.44 L195.19,488.24 L196.41,488.03 L197.64,487.83 L198.86,487.63 L200.08,487.42 L201.30,487.22 L202.52,487.02 L203.75,486.81 L204.97,486.61 L206.19,486.40 L207.41,486.20 L208.63,486.00 L209.85,485.79 L211.08,485.59 L212.30,485.39 L213.52,485.18 L214.74,484.98 L215.96,484.78 L217.18,484.57 L218.41,484.37 L219.63,484.17 L220.85,483.96 L222.07,483.76 L223.29,483.55 L224.52,483.35 L225.74,483.15 L226.96,482.94 L228.18,482.74 L229.40,482.54 L230.62,482.33 L231.85,482.13 L233.07,481.93 L234.29,481.72 L235.51,481.52 L236.73,481.32 L237.96,481.12 L239.18,480.91 L240.40,480.71 L241.62,480.51 L242.84,480.30 L244.07,480.10 L245.29,479.90 L246.51,479.70 L247.73,479.50 L248.96,479.29 L250.18,479.09 L251.40,478.89 L252.62,478.69 L253.85,478.49 L255.07,478.29 L256.29,478.09 L257.52,477.89 L258.74,477.69 L259.96,477.50 L261.19,477.30 L262.41,477.11 L263.64,476.91 L264.86,476.72 L266.09,476.53 L267.31,476.34 L268.54,476.15 L269.76,475.96 L270.99,475.78 L272.22,475.60 L273.45,475.42 L274.68,475.25 L275.91,475.08 L277.14,474.91 L278.38,474.75 L279.61,474.60 L280.85,474.45 L282.09,474.31 L283.33,474.18 L284.58,474.06 L285.83,473.95 L287.08,473.85 L288.33,473.77 L289.59,473.70 L290.86,473.65 L292.13,473.63 L293.40,473.62 L294.69,473.65 L295.98,473.71 L296.63,473.75 L297.24,473.80 L297.93,473.86 L298.58,473.93 L299.20,474.01 L299.88,474.11 L300.52,474.22 L301.13,474.33 L301.79,474.46 L302.42,474.60 L303.02,474.75 L303.66,474.92 L304.26,475.09 L304.84,475.27 L305.46,475.48 L306.04,475.69 L306.61,475.91 L307.20,476.15 L307.76,476.40 L308.31,476.65 L308.88,476.93 L309.43,477.22 L309.96,477.51 L310.51,477.83 L311.04,478.15 L311.55,478.48 L312.09,478.83 L312.61,479.19 L313.11,479.55 L313.59,479.92 L314.10,480.31 L314.59,480.71 L315.06,481.12 L315.53,481.52 L315.98,481.93 L316.42,482.34 L316.88,482.78 L317.33,483.23 L317.76,483.67 L318.19,484.12 L318.61,484.57 L319.02,485.03 L319.42,485.48 L319.81,485.94 L320.20,486.40 L320.60,486.89 L321.00,487.39 L321.39,487.88 L321.77,488.38 L322.15,488.88 L322.52,489.38 L322.88,489.89 L323.24,490.39 L323.59,490.90 L323.94,491.41 L324.29,491.92 L324.63,492.43 L324.96,492.94 L325.29,493.46 L325.62,493.98 L325.94,494.49 L326.26,495.01 L326.58,495.53 L326.89,496.06 L327.20,496.58 L327.51,497.10 L327.81,497.63 L328.11,498.16 L328.41,498.69 L328.70,499.22 L328.99,499.75 L329.28,500.28 L329.57,500.81 L329.85,501.35 L330.13,501.88 L330.41,502.42 L330.69,502.96 L330.96,503.50 L331.24,504.04 L331.51,504.58 L331.78,505.12 L332.04,505.67 L332.31,506.21 L332.57,506.76 L332.83,507.30 L333.09,507.85 L333.35,508.40 L333.61,508.95 L333.86,509.50 L334.12,510.05 L334.37,510.60 L334.62,511.15 L334.87,511.71 L335.11,512.26 L335.36,512.82 L335.61,513.38 L335.85,513.93 L336.09,514.49 L336.33,515.05 L336.57,515.61 L336.81,516.17 L337.05,516.73 L337.07,516.80" stroke="#2e32a8" stroke-width="1.3" fill="none" stroke-dasharray="2.5 0.6 0.9 0.6"/>
<rect x="26.1" y="45.4" width="63" height="50.6" fill="#fff" stroke="#c8c8c8" stroke-width="0.5"/>
<path d="M27.3,49.4 L40.8,49.4" stroke="#8c5a3e" stroke-width="1.25" fill="none"/>
<text x="41.80" y="51.71" font-size="6.42" fill="#1e1e1e" stroke="#1e1e1e">I-V Case 0</text>
<path d="M27.3,57.8 L40.8,57.8" stroke="#68b53c" stroke-width="1.25" fill="none"/>
<text x="41.80" y="60.11" font-size="6.42" fill="#1e1e1e" stroke="#1e1e1e">I-V Case 1,SP</text>
<path d="M27.3,66.3 L40.8,66.3" stroke="#2e32a8" stroke-width="1.25" fill="none"/>
<text x="41.80" y="68.61" font-size="6.42" fill="#1e1e1e" stroke="#1e1e1e">I-V Case 1,TCT</text>
<path d="M27.3,74.9 L40.8,74.9" stroke="#6f7f4a" stroke-width="1.3" stroke-dasharray="2.5 0.6 0.9 0.6" fill="none"/>
<text x="41.80" y="77.21" font-size="6.42" fill="#1e1e1e" stroke="#1e1e1e">P-V Case 0</text>
<path d="M27.3,83.4 L40.8,83.4" stroke="#68b53c" stroke-width="1.3" stroke-dasharray="2.5 0.6 0.9 0.6" fill="none"/>
<text x="41.80" y="85.71" font-size="6.42" fill="#1e1e1e" stroke="#1e1e1e">P-V Case 1,SP</text>
<path d="M27.3,91.8 L40.8,91.8" stroke="#2e32a8" stroke-width="1.3" stroke-dasharray="2.5 0.6 0.9 0.6" fill="none"/>
<text x="41.80" y="94.11" font-size="6.42" fill="#1e1e1e" stroke="#1e1e1e">P-V Case 1,TCT</text>
<rect x="129" y="312.1" width="172.8" height="22.6" fill="#fff" stroke="#c8c8c8" stroke-width="0.5"/>
<path d="M129.7,316.7 L143.0,316.7" stroke="#8c5a3e" stroke-width="1.25" fill="none"/>
<text x="144.00" y="318.60" font-size="5.28" fill="#333" stroke="#333" style="stroke-width:0.05px">I-V Case 0</text>
<path d="M129.7,323.7 L143.0,323.7" stroke="#68b53c" stroke-width="1.25" fill="none"/>
<text x="144.00" y="325.60" font-size="5.28" fill="#333" stroke="#333" style="stroke-width:0.05px">I-V Case (2,SP 2,TCT 4,SP)</text>
<path d="M129.7,330.4 L143.0,330.4" stroke="#2e32a8" stroke-width="1.25" fill="none"/>
<text x="144.00" y="332.30" font-size="5.28" fill="#333" stroke="#333" style="stroke-width:0.05px">I-V Case (3,SP 3,TCT 4,TCT)</text>
<path d="M215.1,316.7 L227.7,316.7" stroke="#8c5a3e" stroke-width="1.3" stroke-dasharray="2.5 0.6 0.9 0.6" fill="none"/>
<text x="228.70" y="318.61" font-size="5.31" fill="#333" stroke="#333" style="stroke-width:0.05px">P-V Case 0</text>
<path d="M215.1,323.7 L227.7,323.7" stroke="#68b53c" stroke-width="1.3" stroke-dasharray="2.5 0.6 0.9 0.6" fill="none"/>
<text x="228.70" y="325.61" font-size="5.31" fill="#333" stroke="#333" style="stroke-width:0.05px">P-V Case (2,SP 2,TCT 4,SP)</text>
<path d="M215.1,330.4 L227.7,330.4" stroke="#2e32a8" stroke-width="1.3" stroke-dasharray="2.5 0.6 0.9 0.6" fill="none"/>
<text x="228.70" y="332.31" font-size="5.31" fill="#333" stroke="#333" style="stroke-width:0.05px">P-V Case (3,SP 3,TCT 4,TCT)</text>
<rect x="28.9" y="407.1" width="114.3" height="22.6" fill="#fff" stroke="#c8c8c8" stroke-width="0.5"/>
<path d="M30.5,411.2 L43.4,411.2" stroke="#8c5a3e" stroke-width="1.25" fill="none"/>
<text x="44.40" y="413.24" font-size="5.66" fill="#2a2a2a" stroke="#2a2a2a" style="stroke-width:0.1px">I-V Case 0</text>
<path d="M30.5,418.1 L43.4,418.1" stroke="#68b53c" stroke-width="1.25" fill="none"/>
<text x="44.40" y="420.14" font-size="5.66" fill="#2a2a2a" stroke="#2a2a2a" style="stroke-width:0.1px">I-V Case 5,SP</text>
<path d="M30.5,425.0 L43.4,425.0" stroke="#2e32a8" stroke-width="1.25" fill="none"/>
<text x="44.40" y="427.04" font-size="5.66" fill="#2a2a2a" stroke="#2a2a2a" style="stroke-width:0.1px">I-V Case 5,TCT</text>
<path d="M85.5,411.2 L99.0,411.2" stroke="#8c5a3e" stroke-width="1.3" stroke-dasharray="2.5 0.6 0.9 0.6" fill="none"/>
<text x="100.00" y="413.27" font-size="5.75" fill="#2a2a2a" stroke="#2a2a2a" style="stroke-width:0.1px">P-V Case 0</text>
<path d="M85.5,418.1 L99.0,418.1" stroke="#68b53c" stroke-width="1.3" stroke-dasharray="2.5 0.6 0.9 0.6" fill="none"/>
<text x="100.00" y="420.17" font-size="5.75" fill="#2a2a2a" stroke="#2a2a2a" style="stroke-width:0.1px">P-V Case 5,SP</text>
<path d="M85.5,425.0 L99.0,425.0" stroke="#2e32a8" stroke-width="1.3" stroke-dasharray="2.5 0.6 0.9 0.6" fill="none"/>
<text x="100.00" y="427.07" font-size="5.75" fill="#2a2a2a" stroke="#2a2a2a" style="stroke-width:0.1px">P-V Case 5,TCT</text>
<path d="M0,76.5 L60,76.7 L80,78.8" stroke="#ff8fdc" stroke-width="0.8" fill="none" opacity="0.55"/>
<path d="M119,68.8 L172,68.8" stroke="#ff8fdc" stroke-width="0.8" fill="none" opacity="0.55"/>
<path d="M0,168.6 L38,168.6" stroke="#6feaf5" stroke-width="0.8" fill="none" opacity="0.55"/>
<text x="187.5" y="8.4" font-size="7.35" font-weight="bold" fill="#111" stroke="#111" text-anchor="middle">One shaded module</text>
<text x="187.2" y="197.3" font-size="6.6" font-weight="bold" fill="#111" stroke="#111" text-anchor="middle">Two shaded modules</text>
<text x="188.2" y="368.7" font-size="6.95" font-weight="bold" fill="#111" stroke="#111" text-anchor="middle">Three shaded modules</text>
<text x="187.7" y="177.3" font-size="6.35" fill="#333" stroke="#333" style="stroke-width:0.14px" text-anchor="middle">Voltage (V)</text>
<text x="188.4" y="349.6" font-size="5.8" fill="#444" stroke="#444" style="stroke-width:0.06px" text-anchor="middle">Voltage (V)</text>
<text x="188.7" y="533.8" font-size="5.95" fill="#444" stroke="#444" style="stroke-width:0.08px" text-anchor="middle">Voltage (V)</text>
<text x="190.2" y="188.6" font-size="8.5" font-family="Liberation Serif" fill="#111" stroke="#111" text-anchor="middle">(a)</text>
<text x="190.3" y="360.2" font-size="8.5" font-family="Liberation Serif" fill="#111" stroke="#111" text-anchor="middle">(b)</text>
<text x="190.3" y="545.9" font-size="8.5" font-family="Liberation Serif" fill="#111" stroke="#111" text-anchor="middle">(c)</text>
<text transform="translate(6.6,86.05) rotate(-90)" font-size="5.6" fill="#2a2a2a" stroke="#2a2a2a" text-anchor="middle" textLength="31.3" lengthAdjust="spacingAndGlyphs" style="stroke-width:0.12px">Current (A)</text>
<text transform="translate(377.1,86.45) rotate(-90)" font-size="5.6" fill="#3f74c0" stroke="#3f74c0" text-anchor="middle" textLength="30.5" lengthAdjust="spacingAndGlyphs" style="stroke-width:0.12px">Power (W)</text>
<text transform="translate(25.0,266.85) rotate(-90)" font-size="5.2" fill="#2a2a2a" stroke="#2a2a2a" text-anchor="middle" textLength="28.7" lengthAdjust="spacingAndGlyphs" style="stroke-width:0.12px">Current (A)</text>
<text transform="translate(357.8,267.2) rotate(-90)" font-size="5.2" fill="#3f74c0" stroke="#3f74c0" text-anchor="middle" textLength="26.8" lengthAdjust="spacingAndGlyphs" style="stroke-width:0.12px">Power (W)</text>
<text transform="translate(14.45,444.35) rotate(-90)" font-size="5.4" fill="#2a2a2a" stroke="#2a2a2a" text-anchor="middle" textLength="29.9" lengthAdjust="spacingAndGlyphs" style="stroke-width:0.12px">Current (A)</text>
<text transform="translate(369.05,444.35) rotate(-90)" font-size="5.4" fill="#3f74c0" stroke="#3f74c0" text-anchor="middle" textLength="28.7" lengthAdjust="spacingAndGlyphs" style="stroke-width:0.12px">Power (W)</text>
</svg>
</body></html>
